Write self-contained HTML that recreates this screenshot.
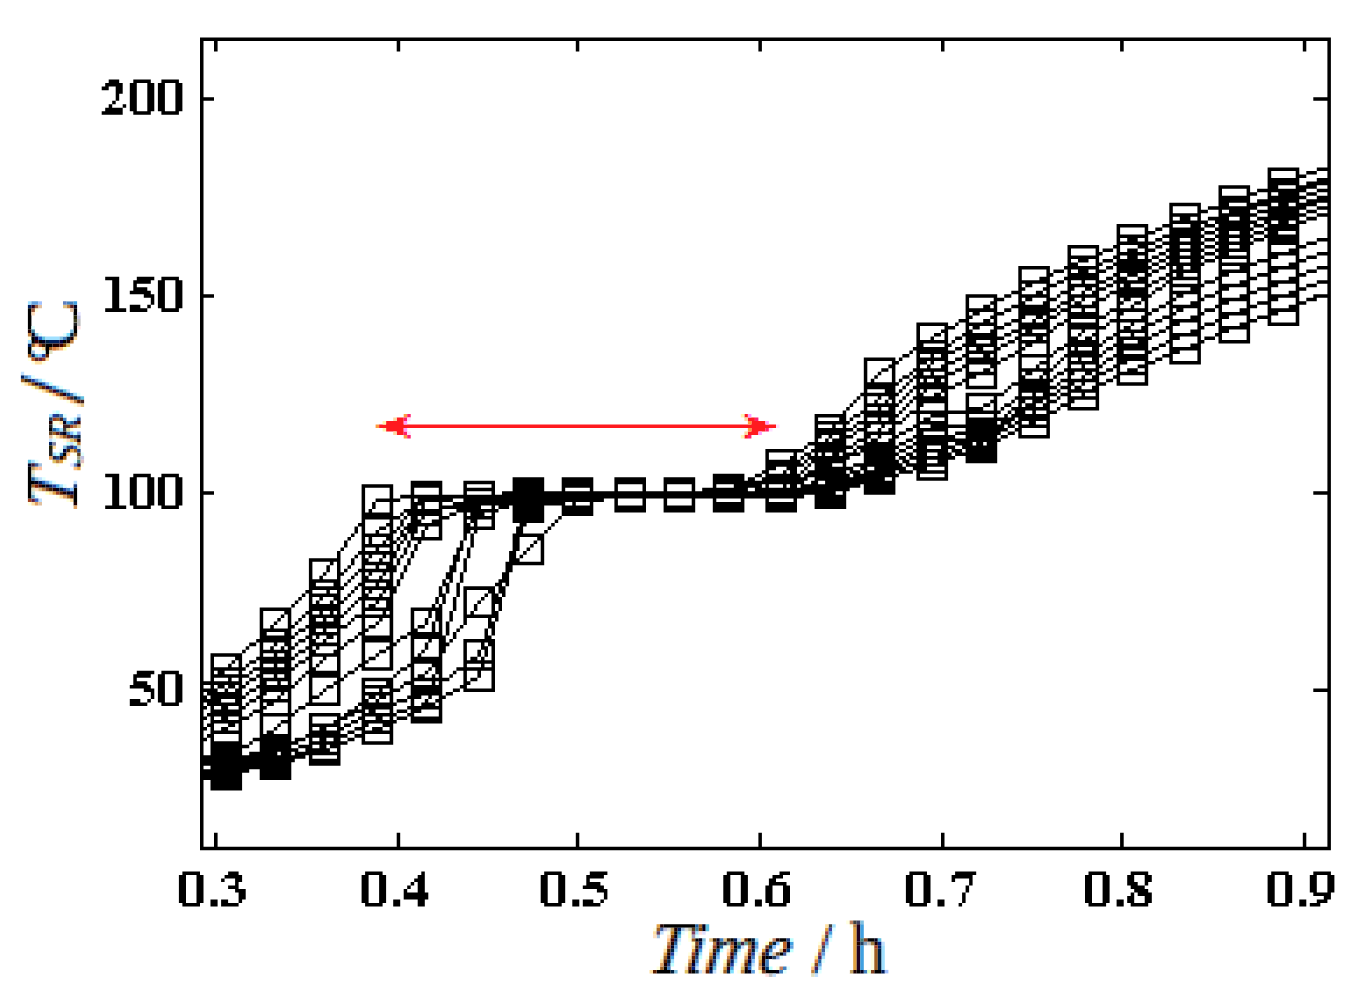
<!DOCTYPE html>
<html><head><meta charset="utf-8"><style>
html,body{margin:0;padding:0;background:#fff;overflow:hidden;}
svg{display:block;}
.ti{font-family:"Liberation Serif",serif;font-size:74px;}
</style></head><body>
<svg width="1367" height="996" viewBox="0 0 1367 996">
<rect width="1367" height="996" fill="#fff"/>
<path fill="#000" d="M200.0 37.4H1330.9V40.9H200.0zM200.0 40.9H203.5V44.4H200.0zM214.0 40.9H217.6V44.4H214.0zM396.7 40.9H400.2V44.4H396.7zM575.8 40.9H579.3V44.4H575.8zM758.4 40.9H761.9V44.4H758.4zM941.0 40.9H944.5V44.4H941.0zM1120.1 40.9H1123.7V44.4H1120.1zM1302.8 40.9H1306.3V44.4H1302.8zM1327.4 40.9H1330.9V44.4H1327.4zM200.0 44.4H203.5V47.9H200.0zM214.0 44.4H217.6V47.9H214.0zM396.7 44.4H400.2V47.9H396.7zM575.8 44.4H579.3V47.9H575.8zM758.4 44.4H761.9V47.9H758.4zM941.0 44.4H944.5V47.9H941.0zM1120.1 44.4H1123.7V47.9H1120.1zM1302.8 44.4H1306.3V47.9H1302.8zM1327.4 44.4H1330.9V47.9H1327.4zM200.0 47.9H203.5V51.4H200.0zM214.0 47.9H217.6V51.4H214.0zM396.7 47.9H400.2V51.4H396.7zM575.8 47.9H579.3V51.4H575.8zM758.4 47.9H761.9V51.4H758.4zM941.0 47.9H944.5V51.4H941.0zM1120.1 47.9H1123.7V51.4H1120.1zM1302.8 47.9H1306.3V51.4H1302.8zM1327.4 47.9H1330.9V51.4H1327.4zM200.0 51.4H203.5V55.0H200.0zM1327.4 51.4H1330.9V55.0H1327.4zM200.0 55.0H203.5V58.5H200.0zM1327.4 55.0H1330.9V58.5H1327.4zM200.0 58.5H203.5V62.0H200.0zM1327.4 58.5H1330.9V62.0H1327.4zM200.0 62.0H203.5V65.5H200.0zM1327.4 62.0H1330.9V65.5H1327.4zM200.0 65.5H203.5V69.0H200.0zM1327.4 65.5H1330.9V69.0H1327.4zM200.0 69.0H203.5V72.6H200.0zM1327.4 69.0H1330.9V72.6H1327.4zM200.0 72.6H203.5V76.1H200.0zM1327.4 72.6H1330.9V76.1H1327.4zM200.0 76.1H203.5V79.6H200.0zM1327.4 76.1H1330.9V79.6H1327.4zM108.7 79.6H119.2V83.1H108.7zM133.3 79.6H150.8V83.1H133.3zM161.4 79.6H178.9V83.1H161.4zM200.0 79.6H203.5V83.1H200.0zM1327.4 79.6H1330.9V83.1H1327.4zM105.2 83.1H122.7V86.6H105.2zM129.8 83.1H136.8V86.6H129.8zM147.3 83.1H154.3V86.6H147.3zM157.9 83.1H164.9V86.6H157.9zM175.4 83.1H182.4V86.6H175.4zM200.0 83.1H203.5V86.6H200.0zM1327.4 83.1H1330.9V86.6H1327.4zM101.7 86.6H108.7V90.2H101.7zM115.7 86.6H122.7V90.2H115.7zM129.8 86.6H136.8V90.2H129.8zM147.3 86.6H154.3V90.2H147.3zM157.9 86.6H164.9V90.2H157.9zM175.4 86.6H182.4V90.2H175.4zM200.0 86.6H203.5V90.2H200.0zM1327.4 86.6H1330.9V90.2H1327.4zM115.7 90.2H122.7V93.7H115.7zM129.8 90.2H136.8V93.7H129.8zM147.3 90.2H154.3V93.7H147.3zM157.9 90.2H164.9V93.7H157.9zM175.4 90.2H182.4V93.7H175.4zM200.0 90.2H203.5V93.7H200.0zM1327.4 90.2H1330.9V93.7H1327.4zM115.7 93.7H119.2V97.2H115.7zM129.8 93.7H136.8V97.2H129.8zM147.3 93.7H154.3V97.2H147.3zM157.9 93.7H164.9V97.2H157.9zM175.4 93.7H182.4V97.2H175.4zM200.0 93.7H203.5V97.2H200.0zM1327.4 93.7H1330.9V97.2H1327.4zM115.7 97.2H119.2V100.7H115.7zM129.8 97.2H136.8V100.7H129.8zM147.3 97.2H154.3V100.7H147.3zM157.9 97.2H164.9V100.7H157.9zM175.4 97.2H182.4V100.7H175.4zM200.0 97.2H214.0V100.7H200.0zM1313.3 97.2H1330.9V100.7H1313.3zM112.2 100.7H115.7V104.2H112.2zM129.8 100.7H136.8V104.2H129.8zM147.3 100.7H154.3V104.2H147.3zM157.9 100.7H164.9V104.2H157.9zM175.4 100.7H182.4V104.2H175.4zM200.0 100.7H203.5V104.2H200.0zM1327.4 100.7H1330.9V104.2H1327.4zM108.7 104.2H112.2V107.8H108.7zM122.7 104.2H126.2V107.8H122.7zM129.8 104.2H136.8V107.8H129.8zM147.3 104.2H154.3V107.8H147.3zM157.9 104.2H164.9V107.8H157.9zM175.4 104.2H182.4V107.8H175.4zM200.0 104.2H203.5V107.8H200.0zM1327.4 104.2H1330.9V107.8H1327.4zM105.2 107.8H122.7V111.3H105.2zM129.8 107.8H136.8V111.3H129.8zM147.3 107.8H154.3V111.3H147.3zM157.9 107.8H164.9V111.3H157.9zM175.4 107.8H182.4V111.3H175.4zM200.0 107.8H203.5V111.3H200.0zM1327.4 107.8H1330.9V111.3H1327.4zM101.7 111.3H122.7V114.8H101.7zM133.3 111.3H150.8V114.8H133.3zM161.4 111.3H178.9V114.8H161.4zM200.0 111.3H203.5V114.8H200.0zM1327.4 111.3H1330.9V114.8H1327.4zM200.0 114.8H203.5V118.3H200.0zM1327.4 114.8H1330.9V118.3H1327.4zM200.0 118.3H203.5V121.8H200.0zM1327.4 118.3H1330.9V121.8H1327.4zM200.0 121.8H203.5V125.3H200.0zM1327.4 121.8H1330.9V125.3H1327.4zM200.0 125.3H203.5V128.9H200.0zM1327.4 125.3H1330.9V128.9H1327.4zM200.0 128.9H203.5V132.4H200.0zM1327.4 128.9H1330.9V132.4H1327.4zM200.0 132.4H203.5V135.9H200.0zM1327.4 132.4H1330.9V135.9H1327.4zM200.0 135.9H203.5V139.4H200.0zM1327.4 135.9H1330.9V139.4H1327.4zM200.0 139.4H203.5V142.9H200.0zM1327.4 139.4H1330.9V142.9H1327.4zM200.0 142.9H203.5V146.5H200.0zM1327.4 142.9H1330.9V146.5H1327.4zM200.0 146.5H203.5V150.0H200.0zM1327.4 146.5H1330.9V150.0H1327.4zM200.0 150.0H203.5V153.5H200.0zM1327.4 150.0H1330.9V153.5H1327.4zM200.0 153.5H203.5V157.0H200.0zM1327.4 153.5H1330.9V157.0H1327.4zM200.0 157.0H203.5V160.5H200.0zM1327.4 157.0H1330.9V160.5H1327.4zM200.0 160.5H203.5V164.1H200.0zM1327.4 160.5H1330.9V164.1H1327.4zM200.0 164.1H203.5V167.6H200.0zM1327.4 164.1H1330.9V167.6H1327.4zM200.0 167.6H203.5V171.1H200.0zM1267.6 167.6H1299.3V171.1H1267.6zM1316.8 167.6H1330.9V171.1H1316.8zM200.0 171.1H203.5V174.6H200.0zM1267.6 171.1H1271.2V174.6H1267.6zM1295.7 171.1H1299.3V174.6H1295.7zM1306.3 171.1H1316.8V174.6H1306.3zM1327.4 171.1H1330.9V174.6H1327.4zM200.0 174.6H203.5V178.1H200.0zM1267.6 174.6H1271.2V178.1H1267.6zM1295.7 174.6H1306.3V178.1H1295.7zM1327.4 174.6H1330.9V178.1H1327.4zM200.0 178.1H203.5V181.6H200.0zM1267.6 178.1H1299.3V181.6H1267.6zM1316.8 178.1H1330.9V181.6H1316.8zM200.0 181.6H203.5V185.2H200.0zM1267.6 181.6H1299.3V185.2H1267.6zM1306.3 181.6H1330.9V185.2H1306.3zM200.0 185.2H203.5V188.7H200.0zM1218.5 185.2H1250.1V188.7H1218.5zM1267.6 185.2H1278.2V188.7H1267.6zM1295.7 185.2H1316.8V188.7H1295.7zM1327.4 185.2H1330.9V188.7H1327.4zM200.0 188.7H203.5V192.2H200.0zM1218.5 188.7H1222.0V192.2H1218.5zM1246.6 188.7H1250.1V192.2H1246.6zM1257.1 188.7H1306.3V192.2H1257.1zM1316.8 188.7H1330.9V192.2H1316.8zM200.0 192.2H203.5V195.7H200.0zM1218.5 192.2H1222.0V195.7H1218.5zM1246.6 192.2H1257.1V195.7H1246.6zM1267.6 192.2H1271.2V195.7H1267.6zM1278.2 192.2H1299.3V195.7H1278.2zM1306.3 192.2H1316.8V195.7H1306.3zM1327.4 192.2H1330.9V195.7H1327.4zM200.0 195.7H203.5V199.2H200.0zM1218.5 195.7H1250.1V199.2H1218.5zM1267.6 195.7H1306.3V199.2H1267.6zM1316.8 195.7H1330.9V199.2H1316.8zM200.0 199.2H203.5V202.8H200.0zM1218.5 199.2H1250.1V202.8H1218.5zM1257.1 199.2H1299.3V202.8H1257.1zM1306.3 199.2H1330.9V202.8H1306.3zM200.0 202.8H203.5V206.3H200.0zM1169.3 202.8H1200.9V206.3H1169.3zM1218.5 202.8H1229.0V206.3H1218.5zM1246.6 202.8H1271.2V206.3H1246.6zM1278.2 202.8H1288.7V206.3H1278.2zM1295.7 202.8H1316.8V206.3H1295.7zM1327.4 202.8H1330.9V206.3H1327.4zM200.0 206.3H203.5V209.8H200.0zM1169.3 206.3H1172.8V209.8H1169.3zM1197.4 206.3H1200.9V209.8H1197.4zM1207.9 206.3H1257.1V209.8H1207.9zM1267.6 206.3H1306.3V209.8H1267.6zM1316.8 206.3H1330.9V209.8H1316.8zM200.0 209.8H203.5V213.3H200.0zM1169.3 209.8H1172.8V213.3H1169.3zM1197.4 209.8H1207.9V213.3H1197.4zM1218.5 209.8H1222.0V213.3H1218.5zM1229.0 209.8H1250.1V213.3H1229.0zM1257.1 209.8H1299.3V213.3H1257.1zM1306.3 209.8H1316.8V213.3H1306.3zM1327.4 209.8H1330.9V213.3H1327.4zM200.0 213.3H203.5V216.8H200.0zM1169.3 213.3H1200.9V216.8H1169.3zM1218.5 213.3H1257.1V216.8H1218.5zM1267.6 213.3H1306.3V216.8H1267.6zM1316.8 213.3H1330.9V216.8H1316.8zM200.0 216.8H203.5V220.4H200.0zM1169.3 216.8H1172.8V220.4H1169.3zM1179.8 216.8H1190.4V220.4H1179.8zM1197.4 216.8H1200.9V220.4H1197.4zM1207.9 216.8H1229.0V220.4H1207.9zM1239.6 216.8H1250.1V220.4H1239.6zM1257.1 216.8H1299.3V220.4H1257.1zM1306.3 216.8H1316.8V220.4H1306.3zM1327.4 216.8H1330.9V220.4H1327.4zM200.0 220.4H203.5V223.9H200.0zM1169.3 220.4H1207.9V223.9H1169.3zM1215.0 220.4H1257.1V223.9H1215.0zM1264.1 220.4H1271.2V223.9H1264.1zM1278.2 220.4H1288.7V223.9H1278.2zM1295.7 220.4H1306.3V223.9H1295.7zM1327.4 220.4H1330.9V223.9H1327.4zM200.0 223.9H203.5V227.4H200.0zM1116.6 223.9H1148.2V227.4H1116.6zM1162.3 223.9H1172.8V227.4H1162.3zM1190.4 223.9H1200.9V227.4H1190.4zM1204.4 223.9H1215.0V227.4H1204.4zM1218.5 223.9H1250.1V227.4H1218.5zM1253.6 223.9H1264.1V227.4H1253.6zM1267.6 223.9H1299.3V227.4H1267.6zM1327.4 223.9H1330.9V227.4H1327.4zM200.0 227.4H203.5V230.9H200.0zM1116.6 227.4H1120.1V230.9H1116.6zM1144.7 227.4H1148.2V230.9H1144.7zM1155.3 227.4H1162.3V230.9H1155.3zM1169.3 227.4H1204.4V230.9H1169.3zM1215.0 227.4H1253.6V230.9H1215.0zM1264.1 227.4H1299.3V230.9H1264.1zM1327.4 227.4H1330.9V230.9H1327.4zM200.0 230.9H203.5V234.4H200.0zM1116.6 230.9H1120.1V234.4H1116.6zM1144.7 230.9H1155.3V234.4H1144.7zM1169.3 230.9H1200.9V234.4H1169.3zM1204.4 230.9H1215.0V234.4H1204.4zM1218.5 230.9H1229.0V234.4H1218.5zM1239.6 230.9H1250.1V234.4H1239.6zM1253.6 230.9H1264.1V234.4H1253.6zM1267.6 230.9H1278.2V234.4H1267.6zM1295.7 230.9H1299.3V234.4H1295.7zM1327.4 230.9H1330.9V234.4H1327.4zM200.0 234.4H203.5V238.0H200.0zM1116.6 234.4H1148.2V238.0H1116.6zM1162.3 234.4H1204.4V238.0H1162.3zM1215.0 234.4H1253.6V238.0H1215.0zM1264.1 234.4H1299.3V238.0H1264.1zM1327.4 234.4H1330.9V238.0H1327.4zM200.0 238.0H203.5V241.5H200.0zM1116.6 238.0H1120.1V241.5H1116.6zM1127.2 238.0H1137.7V241.5H1127.2zM1144.7 238.0H1148.2V241.5H1144.7zM1155.3 238.0H1162.3V241.5H1155.3zM1169.3 238.0H1179.8V241.5H1169.3zM1190.4 238.0H1200.9V241.5H1190.4zM1204.4 238.0H1215.0V241.5H1204.4zM1218.5 238.0H1229.0V241.5H1218.5zM1239.6 238.0H1250.1V241.5H1239.6zM1253.6 238.0H1264.1V241.5H1253.6zM1267.6 238.0H1299.3V241.5H1267.6zM1316.8 238.0H1330.9V241.5H1316.8zM200.0 241.5H203.5V245.0H200.0zM1116.6 241.5H1155.3V245.0H1116.6zM1162.3 241.5H1204.4V245.0H1162.3zM1215.0 241.5H1253.6V245.0H1215.0zM1267.6 241.5H1299.3V245.0H1267.6zM1306.3 241.5H1316.8V245.0H1306.3zM1327.4 241.5H1330.9V245.0H1327.4zM200.0 245.0H203.5V248.5H200.0zM1067.5 245.0H1099.1V248.5H1067.5zM1113.1 245.0H1120.1V248.5H1113.1zM1137.7 245.0H1148.2V248.5H1137.7zM1155.3 245.0H1162.3V248.5H1155.3zM1169.3 245.0H1179.8V248.5H1169.3zM1190.4 245.0H1200.9V248.5H1190.4zM1204.4 245.0H1215.0V248.5H1204.4zM1218.5 245.0H1229.0V248.5H1218.5zM1239.6 245.0H1250.1V248.5H1239.6zM1267.6 245.0H1271.2V248.5H1267.6zM1295.7 245.0H1306.3V248.5H1295.7zM1327.4 245.0H1330.9V248.5H1327.4zM200.0 248.5H203.5V252.0H200.0zM1067.5 248.5H1071.0V252.0H1067.5zM1095.6 248.5H1099.1V252.0H1095.6zM1102.6 248.5H1113.1V252.0H1102.6zM1116.6 248.5H1120.1V252.0H1116.6zM1127.2 248.5H1137.7V252.0H1127.2zM1144.7 248.5H1155.3V252.0H1144.7zM1165.8 248.5H1204.4V252.0H1165.8zM1215.0 248.5H1250.1V252.0H1215.0zM1267.6 248.5H1271.2V252.0H1267.6zM1288.7 248.5H1299.3V252.0H1288.7zM1327.4 248.5H1330.9V252.0H1327.4zM200.0 252.0H203.5V255.5H200.0zM1067.5 252.0H1071.0V255.5H1067.5zM1095.6 252.0H1102.6V255.5H1095.6zM1116.6 252.0H1148.2V255.5H1116.6zM1158.8 252.0H1165.8V255.5H1158.8zM1169.3 252.0H1179.8V255.5H1169.3zM1190.4 252.0H1200.9V255.5H1190.4zM1204.4 252.0H1215.0V255.5H1204.4zM1218.5 252.0H1229.0V255.5H1218.5zM1246.6 252.0H1250.1V255.5H1246.6zM1267.6 252.0H1299.3V255.5H1267.6zM1316.8 252.0H1330.9V255.5H1316.8zM200.0 255.5H203.5V259.1H200.0zM1067.5 255.5H1099.1V259.1H1067.5zM1113.1 255.5H1120.1V259.1H1113.1zM1127.2 255.5H1137.7V259.1H1127.2zM1144.7 255.5H1148.2V259.1H1144.7zM1151.8 255.5H1158.8V259.1H1151.8zM1165.8 255.5H1204.4V259.1H1165.8zM1215.0 255.5H1250.1V259.1H1215.0zM1267.6 255.5H1278.2V259.1H1267.6zM1295.7 255.5H1299.3V259.1H1295.7zM1306.3 255.5H1316.8V259.1H1306.3zM1327.4 255.5H1330.9V259.1H1327.4zM200.0 259.1H203.5V262.6H200.0zM1067.5 259.1H1071.0V262.6H1067.5zM1078.0 259.1H1088.5V262.6H1078.0zM1095.6 259.1H1099.1V262.6H1095.6zM1102.6 259.1H1113.1V262.6H1102.6zM1116.6 259.1H1151.8V262.6H1116.6zM1158.8 259.1H1165.8V262.6H1158.8zM1169.3 259.1H1179.8V262.6H1169.3zM1190.4 259.1H1200.9V262.6H1190.4zM1204.4 259.1H1215.0V262.6H1204.4zM1218.5 259.1H1222.0V262.6H1218.5zM1246.6 259.1H1250.1V262.6H1246.6zM1257.1 259.1H1271.2V262.6H1257.1zM1295.7 259.1H1306.3V262.6H1295.7zM1327.4 259.1H1330.9V262.6H1327.4zM200.0 262.6H203.5V266.1H200.0zM1067.5 262.6H1078.0V266.1H1067.5zM1095.6 262.6H1102.6V266.1H1095.6zM1113.1 262.6H1148.2V266.1H1113.1zM1151.8 262.6H1158.8V266.1H1151.8zM1165.8 262.6H1204.4V266.1H1165.8zM1218.5 262.6H1257.1V266.1H1218.5zM1267.6 262.6H1271.2V266.1H1267.6zM1288.7 262.6H1299.3V266.1H1288.7zM1327.4 262.6H1330.9V266.1H1327.4zM200.0 266.1H203.5V269.6H200.0zM1018.3 266.1H1049.9V269.6H1018.3zM1064.0 266.1H1099.1V269.6H1064.0zM1106.1 266.1H1113.1V269.6H1106.1zM1116.6 266.1H1151.8V269.6H1116.6zM1158.8 266.1H1165.8V269.6H1158.8zM1169.3 266.1H1172.8V269.6H1169.3zM1176.3 266.1H1183.4V269.6H1176.3zM1190.4 266.1H1200.9V269.6H1190.4zM1218.5 266.1H1222.0V269.6H1218.5zM1239.6 266.1H1250.1V269.6H1239.6zM1267.6 266.1H1299.3V269.6H1267.6zM1316.8 266.1H1330.9V269.6H1316.8zM200.0 269.6H203.5V273.1H200.0zM1018.3 269.6H1021.8V273.1H1018.3zM1046.4 269.6H1049.9V273.1H1046.4zM1053.4 269.6H1064.0V273.1H1053.4zM1067.5 269.6H1071.0V273.1H1067.5zM1078.0 269.6H1088.5V273.1H1078.0zM1095.6 269.6H1106.1V273.1H1095.6zM1116.6 269.6H1148.2V273.1H1116.6zM1151.8 269.6H1158.8V273.1H1151.8zM1169.3 269.6H1200.9V273.1H1169.3zM1218.5 269.6H1250.1V273.1H1218.5zM1267.6 269.6H1278.2V273.1H1267.6zM1295.7 269.6H1299.3V273.1H1295.7zM1306.3 269.6H1316.8V273.1H1306.3zM1327.4 269.6H1330.9V273.1H1327.4zM200.0 273.1H203.5V276.7H200.0zM1018.3 273.1H1021.8V276.7H1018.3zM1046.4 273.1H1053.4V276.7H1046.4zM1067.5 273.1H1099.1V276.7H1067.5zM1113.1 273.1H1120.1V276.7H1113.1zM1127.2 273.1H1137.7V276.7H1127.2zM1144.7 273.1H1151.8V276.7H1144.7zM1165.8 273.1H1172.8V276.7H1165.8zM1176.3 273.1H1183.4V276.7H1176.3zM1197.4 273.1H1200.9V276.7H1197.4zM1218.5 273.1H1229.0V276.7H1218.5zM1246.6 273.1H1250.1V276.7H1246.6zM1257.1 273.1H1271.2V276.7H1257.1zM1295.7 273.1H1306.3V276.7H1295.7zM1327.4 273.1H1330.9V276.7H1327.4zM105.2 276.7H119.2V280.2H105.2zM136.8 276.7H154.3V280.2H136.8zM161.4 276.7H178.9V280.2H161.4zM200.0 276.7H203.5V280.2H200.0zM1018.3 276.7H1021.8V280.2H1018.3zM1039.4 276.7H1049.9V280.2H1039.4zM1064.0 276.7H1099.1V280.2H1064.0zM1106.1 276.7H1113.1V280.2H1106.1zM1116.6 276.7H1127.2V280.2H1116.6zM1137.7 276.7H1148.2V280.2H1137.7zM1158.8 276.7H1165.8V280.2H1158.8zM1169.3 276.7H1200.9V280.2H1169.3zM1215.0 276.7H1222.0V280.2H1215.0zM1246.6 276.7H1257.1V280.2H1246.6zM1267.6 276.7H1271.2V280.2H1267.6zM1288.7 276.7H1299.3V280.2H1288.7zM1327.4 276.7H1330.9V280.2H1327.4zM112.2 280.2H119.2V283.7H112.2zM133.3 280.2H150.8V283.7H133.3zM157.9 280.2H164.9V283.7H157.9zM175.4 280.2H182.4V283.7H175.4zM200.0 280.2H203.5V283.7H200.0zM1018.3 280.2H1049.9V283.7H1018.3zM1056.9 280.2H1064.0V283.7H1056.9zM1067.5 280.2H1071.0V283.7H1067.5zM1081.5 280.2H1085.0V283.7H1081.5zM1095.6 280.2H1106.1V283.7H1095.6zM1113.1 280.2H1148.2V283.7H1113.1zM1151.8 280.2H1158.8V283.7H1151.8zM1165.8 280.2H1172.8V283.7H1165.8zM1197.4 280.2H1200.9V283.7H1197.4zM1204.4 280.2H1215.0V283.7H1204.4zM1218.5 280.2H1222.0V283.7H1218.5zM1239.6 280.2H1250.1V283.7H1239.6zM1267.6 280.2H1299.3V283.7H1267.6zM1316.8 280.2H1330.9V283.7H1316.8zM112.2 283.7H119.2V287.2H112.2zM133.3 283.7H136.8V287.2H133.3zM157.9 283.7H164.9V287.2H157.9zM175.4 283.7H182.4V287.2H175.4zM200.0 283.7H203.5V287.2H200.0zM1018.3 283.7H1021.8V287.2H1018.3zM1025.3 283.7H1032.3V287.2H1025.3zM1046.4 283.7H1056.9V287.2H1046.4zM1067.5 283.7H1099.1V287.2H1067.5zM1106.1 283.7H1113.1V287.2H1106.1zM1116.6 283.7H1120.1V287.2H1116.6zM1123.7 283.7H1130.7V287.2H1123.7zM1144.7 283.7H1151.8V287.2H1144.7zM1162.3 283.7H1165.8V287.2H1162.3zM1169.3 283.7H1204.4V287.2H1169.3zM1218.5 283.7H1250.1V287.2H1218.5zM1267.6 283.7H1278.2V287.2H1267.6zM1295.7 283.7H1299.3V287.2H1295.7zM1306.3 283.7H1316.8V287.2H1306.3zM1327.4 283.7H1330.9V287.2H1327.4zM112.2 287.2H119.2V290.7H112.2zM133.3 287.2H147.3V290.7H133.3zM157.9 287.2H164.9V290.7H157.9zM175.4 287.2H182.4V290.7H175.4zM200.0 287.2H203.5V290.7H200.0zM1018.3 287.2H1025.3V290.7H1018.3zM1042.9 287.2H1049.9V290.7H1042.9zM1067.5 287.2H1074.5V290.7H1067.5zM1085.0 287.2H1092.0V290.7H1085.0zM1095.6 287.2H1106.1V290.7H1095.6zM1116.6 287.2H1148.2V290.7H1116.6zM1155.3 287.2H1162.3V290.7H1155.3zM1169.3 287.2H1172.8V290.7H1169.3zM1190.4 287.2H1200.9V290.7H1190.4zM1218.5 287.2H1229.0V290.7H1218.5zM1246.6 287.2H1250.1V290.7H1246.6zM1257.1 287.2H1271.2V290.7H1257.1zM1295.7 287.2H1306.3V290.7H1295.7zM1327.4 287.2H1330.9V290.7H1327.4zM112.2 290.7H119.2V294.3H112.2zM129.8 290.7H150.8V294.3H129.8zM157.9 290.7H164.9V294.3H157.9zM175.4 290.7H182.4V294.3H175.4zM200.0 290.7H203.5V294.3H200.0zM1011.3 290.7H1021.8V294.3H1011.3zM1035.9 290.7H1042.9V294.3H1035.9zM1046.4 290.7H1049.9V294.3H1046.4zM1060.4 290.7H1071.0V294.3H1060.4zM1081.5 290.7H1085.0V294.3H1081.5zM1092.0 290.7H1099.1V294.3H1092.0zM1109.6 290.7H1148.2V294.3H1109.6zM1151.8 290.7H1155.3V294.3H1151.8zM1169.3 290.7H1200.9V294.3H1169.3zM1215.0 290.7H1222.0V294.3H1215.0zM1246.6 290.7H1257.1V294.3H1246.6zM1267.6 290.7H1271.2V294.3H1267.6zM1288.7 290.7H1299.3V294.3H1288.7zM1327.4 290.7H1330.9V294.3H1327.4zM112.2 294.3H119.2V297.8H112.2zM143.8 294.3H154.3V297.8H143.8zM157.9 294.3H164.9V297.8H157.9zM175.4 294.3H182.4V297.8H175.4zM200.0 294.3H214.0V297.8H200.0zM965.6 294.3H997.2V297.8H965.6zM1004.2 294.3H1011.3V297.8H1004.2zM1018.3 294.3H1049.9V297.8H1018.3zM1056.9 294.3H1060.4V297.8H1056.9zM1067.5 294.3H1099.1V297.8H1067.5zM1106.1 294.3H1109.6V297.8H1106.1zM1116.6 294.3H1151.8V297.8H1116.6zM1169.3 294.3H1172.8V297.8H1169.3zM1176.3 294.3H1183.4V297.8H1176.3zM1197.4 294.3H1200.9V297.8H1197.4zM1204.4 294.3H1215.0V297.8H1204.4zM1218.5 294.3H1222.0V297.8H1218.5zM1239.6 294.3H1250.1V297.8H1239.6zM1267.6 294.3H1299.3V297.8H1267.6zM1313.3 294.3H1330.9V297.8H1313.3zM112.2 297.8H119.2V301.3H112.2zM150.8 297.8H154.3V301.3H150.8zM157.9 297.8H164.9V301.3H157.9zM175.4 297.8H182.4V301.3H175.4zM200.0 297.8H203.5V301.3H200.0zM965.6 297.8H969.1V301.3H965.6zM993.7 297.8H1004.2V301.3H993.7zM1018.3 297.8H1021.8V301.3H1018.3zM1025.3 297.8H1032.3V301.3H1025.3zM1046.4 297.8H1056.9V301.3H1046.4zM1067.5 297.8H1074.5V301.3H1067.5zM1081.5 297.8H1085.0V301.3H1081.5zM1095.6 297.8H1106.1V301.3H1095.6zM1116.6 297.8H1120.1V301.3H1116.6zM1123.7 297.8H1130.7V301.3H1123.7zM1141.2 297.8H1148.2V301.3H1141.2zM1169.3 297.8H1176.3V301.3H1169.3zM1197.4 297.8H1204.4V301.3H1197.4zM1218.5 297.8H1250.1V301.3H1218.5zM1267.6 297.8H1278.2V301.3H1267.6zM1295.7 297.8H1299.3V301.3H1295.7zM1306.3 297.8H1316.8V301.3H1306.3zM1327.4 297.8H1330.9V301.3H1327.4zM112.2 301.3H119.2V304.8H112.2zM150.8 301.3H154.3V304.8H150.8zM157.9 301.3H164.9V304.8H157.9zM175.4 301.3H182.4V304.8H175.4zM200.0 301.3H203.5V304.8H200.0zM965.6 301.3H969.1V304.8H965.6zM990.2 301.3H997.2V304.8H990.2zM1018.3 301.3H1025.3V304.8H1018.3zM1042.9 301.3H1049.9V304.8H1042.9zM1060.4 301.3H1071.0V304.8H1060.4zM1074.5 301.3H1081.5V304.8H1074.5zM1092.0 301.3H1099.1V304.8H1092.0zM1116.6 301.3H1123.7V304.8H1116.6zM1134.2 301.3H1141.2V304.8H1134.2zM1144.7 301.3H1148.2V304.8H1144.7zM1165.8 301.3H1172.8V304.8H1165.8zM1190.4 301.3H1200.9V304.8H1190.4zM1218.5 301.3H1229.0V304.8H1218.5zM1246.6 301.3H1250.1V304.8H1246.6zM1257.1 301.3H1271.2V304.8H1257.1zM1295.7 301.3H1306.3V304.8H1295.7zM1327.4 301.3H1330.9V304.8H1327.4zM112.2 304.8H119.2V308.3H112.2zM129.8 304.8H140.3V308.3H129.8zM147.3 304.8H150.8V308.3H147.3zM157.9 304.8H164.9V308.3H157.9zM175.4 304.8H182.4V308.3H175.4zM200.0 304.8H203.5V308.3H200.0zM965.6 304.8H969.1V308.3H965.6zM983.2 304.8H990.2V308.3H983.2zM993.7 304.8H997.2V308.3H993.7zM1011.3 304.8H1049.9V308.3H1011.3zM1056.9 304.8H1060.4V308.3H1056.9zM1067.5 304.8H1099.1V308.3H1067.5zM1116.6 304.8H1120.1V308.3H1116.6zM1130.7 304.8H1134.2V308.3H1130.7zM1144.7 304.8H1148.2V308.3H1144.7zM1158.8 304.8H1165.8V308.3H1158.8zM1169.3 304.8H1200.9V308.3H1169.3zM1215.0 304.8H1222.0V308.3H1215.0zM1246.6 304.8H1257.1V308.3H1246.6zM1267.6 304.8H1271.2V308.3H1267.6zM1288.7 304.8H1299.3V308.3H1288.7zM1327.4 304.8H1330.9V308.3H1327.4zM105.2 308.3H126.2V311.9H105.2zM129.8 308.3H147.3V311.9H129.8zM161.4 308.3H178.9V311.9H161.4zM200.0 308.3H203.5V311.9H200.0zM965.6 308.3H997.2V311.9H965.6zM1004.2 308.3H1011.3V311.9H1004.2zM1018.3 308.3H1056.9V311.9H1018.3zM1060.4 308.3H1071.0V311.9H1060.4zM1081.5 308.3H1085.0V311.9H1081.5zM1095.6 308.3H1099.1V311.9H1095.6zM1109.6 308.3H1148.2V311.9H1109.6zM1151.8 308.3H1158.8V311.9H1151.8zM1169.3 308.3H1172.8V311.9H1169.3zM1176.3 308.3H1183.4V311.9H1176.3zM1197.4 308.3H1200.9V311.9H1197.4zM1204.4 308.3H1215.0V311.9H1204.4zM1218.5 308.3H1222.0V311.9H1218.5zM1239.6 308.3H1250.1V311.9H1239.6zM1267.6 308.3H1299.3V311.9H1267.6zM1327.4 308.3H1330.9V311.9H1327.4zM200.0 311.9H203.5V315.4H200.0zM965.6 311.9H969.1V315.4H965.6zM972.6 311.9H979.7V315.4H972.6zM993.7 311.9H1004.2V315.4H993.7zM1018.3 311.9H1049.9V315.4H1018.3zM1056.9 311.9H1060.4V315.4H1056.9zM1067.5 311.9H1099.1V315.4H1067.5zM1106.1 311.9H1109.6V315.4H1106.1zM1116.6 311.9H1123.7V315.4H1116.6zM1144.7 311.9H1151.8V315.4H1144.7zM1169.3 311.9H1176.3V315.4H1169.3zM1197.4 311.9H1204.4V315.4H1197.4zM1218.5 311.9H1250.1V315.4H1218.5zM1267.6 311.9H1278.2V315.4H1267.6zM1295.7 311.9H1299.3V315.4H1295.7zM1327.4 311.9H1330.9V315.4H1327.4zM200.0 315.4H203.5V318.9H200.0zM965.6 315.4H972.6V318.9H965.6zM990.2 315.4H997.2V318.9H990.2zM1018.3 315.4H1025.3V318.9H1018.3zM1035.9 315.4H1042.9V318.9H1035.9zM1046.4 315.4H1056.9V318.9H1046.4zM1067.5 315.4H1106.1V318.9H1067.5zM1116.6 315.4H1120.1V318.9H1116.6zM1141.2 315.4H1148.2V318.9H1141.2zM1162.3 315.4H1172.8V318.9H1162.3zM1190.4 315.4H1200.9V318.9H1190.4zM1218.5 315.4H1229.0V318.9H1218.5zM1246.6 315.4H1250.1V318.9H1246.6zM1257.1 315.4H1271.2V318.9H1257.1zM1295.7 315.4H1299.3V318.9H1295.7zM1327.4 315.4H1330.9V318.9H1327.4zM200.0 318.9H203.5V322.4H200.0zM958.6 318.9H969.1V322.4H958.6zM983.2 318.9H990.2V322.4H983.2zM993.7 318.9H997.2V322.4H993.7zM1011.3 318.9H1021.8V322.4H1011.3zM1032.3 318.9H1035.9V322.4H1032.3zM1042.9 318.9H1049.9V322.4H1042.9zM1064.0 318.9H1071.0V322.4H1064.0zM1095.6 318.9H1099.1V322.4H1095.6zM1109.6 318.9H1148.2V322.4H1109.6zM1155.3 318.9H1162.3V322.4H1155.3zM1169.3 318.9H1200.9V322.4H1169.3zM1215.0 318.9H1222.0V322.4H1215.0zM1246.6 318.9H1257.1V322.4H1246.6zM1267.6 318.9H1271.2V322.4H1267.6zM1295.7 318.9H1299.3V322.4H1295.7zM1327.4 318.9H1330.9V322.4H1327.4zM200.0 322.4H203.5V325.9H200.0zM916.4 322.4H948.1V325.9H916.4zM955.1 322.4H958.6V325.9H955.1zM965.6 322.4H997.2V325.9H965.6zM1004.2 322.4H1011.3V325.9H1004.2zM1018.3 322.4H1049.9V325.9H1018.3zM1056.9 322.4H1064.0V325.9H1056.9zM1067.5 322.4H1099.1V325.9H1067.5zM1106.1 322.4H1109.6V325.9H1106.1zM1116.6 322.4H1120.1V325.9H1116.6zM1130.7 322.4H1134.2V325.9H1130.7zM1144.7 322.4H1155.3V325.9H1144.7zM1169.3 322.4H1179.8V325.9H1169.3zM1197.4 322.4H1200.9V325.9H1197.4zM1204.4 322.4H1215.0V325.9H1204.4zM1218.5 322.4H1222.0V325.9H1218.5zM1239.6 322.4H1250.1V325.9H1239.6zM1267.6 322.4H1299.3V325.9H1267.6zM1327.4 322.4H1330.9V325.9H1327.4zM200.0 325.9H203.5V329.4H200.0zM916.4 325.9H920.0V329.4H916.4zM944.5 325.9H955.1V329.4H944.5zM965.6 325.9H969.1V329.4H965.6zM972.6 325.9H979.7V329.4H972.6zM993.7 325.9H1004.2V329.4H993.7zM1018.3 325.9H1049.9V329.4H1018.3zM1053.4 325.9H1056.9V329.4H1053.4zM1067.5 325.9H1106.1V329.4H1067.5zM1116.6 325.9H1120.1V329.4H1116.6zM1123.7 325.9H1130.7V329.4H1123.7zM1141.2 325.9H1148.2V329.4H1141.2zM1165.8 325.9H1172.8V329.4H1165.8zM1197.4 325.9H1204.4V329.4H1197.4zM1218.5 325.9H1250.1V329.4H1218.5zM1327.4 325.9H1330.9V329.4H1327.4zM200.0 329.4H203.5V333.0H200.0zM916.4 329.4H920.0V333.0H916.4zM941.0 329.4H948.1V333.0H941.0zM965.6 329.4H972.6V333.0H965.6zM990.2 329.4H997.2V333.0H990.2zM1011.3 329.4H1021.8V333.0H1011.3zM1025.3 329.4H1032.3V333.0H1025.3zM1046.4 329.4H1053.4V333.0H1046.4zM1067.5 329.4H1071.0V333.0H1067.5zM1081.5 329.4H1085.0V333.0H1081.5zM1095.6 329.4H1099.1V333.0H1095.6zM1116.6 329.4H1148.2V333.0H1116.6zM1158.8 329.4H1165.8V333.0H1158.8zM1169.3 329.4H1172.8V333.0H1169.3zM1190.4 329.4H1200.9V333.0H1190.4zM1218.5 329.4H1229.0V333.0H1218.5zM1246.6 329.4H1250.1V333.0H1246.6zM1327.4 329.4H1330.9V333.0H1327.4zM200.0 333.0H203.5V336.5H200.0zM916.4 333.0H920.0V336.5H916.4zM934.0 333.0H941.0V336.5H934.0zM944.5 333.0H948.1V336.5H944.5zM962.1 333.0H997.2V336.5H962.1zM1004.2 333.0H1011.3V336.5H1004.2zM1018.3 333.0H1049.9V336.5H1018.3zM1067.5 333.0H1071.0V336.5H1067.5zM1078.0 333.0H1081.5V336.5H1078.0zM1092.0 333.0H1099.1V336.5H1092.0zM1113.1 333.0H1120.1V336.5H1113.1zM1130.7 333.0H1134.2V336.5H1130.7zM1144.7 333.0H1148.2V336.5H1144.7zM1151.8 333.0H1158.8V336.5H1151.8zM1169.3 333.0H1200.9V336.5H1169.3zM1215.0 333.0H1222.0V336.5H1215.0zM1246.6 333.0H1250.1V336.5H1246.6zM1327.4 333.0H1330.9V336.5H1327.4zM200.0 336.5H203.5V340.0H200.0zM916.4 336.5H920.0V340.0H916.4zM930.5 336.5H934.0V340.0H930.5zM944.5 336.5H948.1V340.0H944.5zM955.1 336.5H962.1V340.0H955.1zM965.6 336.5H1004.2V340.0H965.6zM1014.8 336.5H1021.8V340.0H1014.8zM1035.9 336.5H1042.9V340.0H1035.9zM1046.4 336.5H1049.9V340.0H1046.4zM1067.5 336.5H1078.0V340.0H1067.5zM1085.0 336.5H1092.0V340.0H1085.0zM1095.6 336.5H1099.1V340.0H1095.6zM1106.1 336.5H1113.1V340.0H1106.1zM1116.6 336.5H1151.8V340.0H1116.6zM1169.3 336.5H1179.8V340.0H1169.3zM1197.4 336.5H1200.9V340.0H1197.4zM1204.4 336.5H1215.0V340.0H1204.4zM1218.5 336.5H1222.0V340.0H1218.5zM1246.6 336.5H1250.1V340.0H1246.6zM1327.4 336.5H1330.9V340.0H1327.4zM200.0 340.0H203.5V343.5H200.0zM916.4 340.0H948.1V343.5H916.4zM951.6 340.0H955.1V343.5H951.6zM965.6 340.0H976.2V343.5H965.6zM990.2 340.0H997.2V343.5H990.2zM1007.8 340.0H1014.8V343.5H1007.8zM1018.3 340.0H1049.9V343.5H1018.3zM1067.5 340.0H1099.1V343.5H1067.5zM1102.6 340.0H1106.1V343.5H1102.6zM1116.6 340.0H1123.7V343.5H1116.6zM1137.7 340.0H1148.2V343.5H1137.7zM1165.8 340.0H1172.8V343.5H1165.8zM1197.4 340.0H1204.4V343.5H1197.4zM1218.5 340.0H1250.1V343.5H1218.5zM1327.4 340.0H1330.9V343.5H1327.4zM200.0 343.5H203.5V347.0H200.0zM916.4 343.5H923.5V347.0H916.4zM944.5 343.5H951.6V347.0H944.5zM962.1 343.5H997.2V347.0H962.1zM1000.7 343.5H1007.8V347.0H1000.7zM1018.3 343.5H1021.8V347.0H1018.3zM1025.3 343.5H1032.3V347.0H1025.3zM1046.4 343.5H1049.9V347.0H1046.4zM1064.0 343.5H1102.6V347.0H1064.0zM1113.1 343.5H1148.2V347.0H1113.1zM1158.8 343.5H1165.8V347.0H1158.8zM1169.3 343.5H1172.8V347.0H1169.3zM1190.4 343.5H1200.9V347.0H1190.4zM1327.4 343.5H1330.9V347.0H1327.4zM200.0 347.0H203.5V350.6H200.0zM912.9 347.0H948.1V350.6H912.9zM955.1 347.0H962.1V350.6H955.1zM965.6 347.0H969.1V350.6H965.6zM976.2 347.0H983.2V350.6H976.2zM993.7 347.0H1000.7V350.6H993.7zM1018.3 347.0H1025.3V350.6H1018.3zM1046.4 347.0H1049.9V350.6H1046.4zM1056.9 347.0H1064.0V350.6H1056.9zM1067.5 347.0H1071.0V350.6H1067.5zM1074.5 347.0H1078.0V350.6H1074.5zM1092.0 347.0H1099.1V350.6H1092.0zM1106.1 347.0H1113.1V350.6H1106.1zM1116.6 347.0H1148.2V350.6H1116.6zM1151.8 347.0H1158.8V350.6H1151.8zM1169.3 347.0H1200.9V350.6H1169.3zM1327.4 347.0H1330.9V350.6H1327.4zM200.0 350.6H203.5V354.1H200.0zM909.4 350.6H912.9V354.1H909.4zM916.4 350.6H955.1V354.1H916.4zM965.6 350.6H997.2V354.1H965.6zM1014.8 350.6H1021.8V354.1H1014.8zM1046.4 350.6H1049.9V354.1H1046.4zM1053.4 350.6H1056.9V354.1H1053.4zM1067.5 350.6H1099.1V354.1H1067.5zM1102.6 350.6H1106.1V354.1H1102.6zM1116.6 350.6H1123.7V354.1H1116.6zM1144.7 350.6H1151.8V354.1H1144.7zM1169.3 350.6H1179.8V354.1H1169.3zM1197.4 350.6H1200.9V354.1H1197.4zM1327.4 350.6H1330.9V354.1H1327.4zM200.0 354.1H203.5V357.6H200.0zM902.4 354.1H909.4V357.6H902.4zM916.4 354.1H920.0V357.6H916.4zM930.5 354.1H934.0V357.6H930.5zM941.0 354.1H948.1V357.6H941.0zM962.1 354.1H969.1V357.6H962.1zM983.2 354.1H990.2V357.6H983.2zM993.7 354.1H997.2V357.6H993.7zM1007.8 354.1H1014.8V357.6H1007.8zM1018.3 354.1H1053.4V357.6H1018.3zM1064.0 354.1H1102.6V357.6H1064.0zM1113.1 354.1H1148.2V357.6H1113.1zM1162.3 354.1H1172.8V357.6H1162.3zM1197.4 354.1H1200.9V357.6H1197.4zM1327.4 354.1H1330.9V357.6H1327.4zM200.0 357.6H203.5V361.1H200.0zM863.8 357.6H895.4V361.1H863.8zM898.9 357.6H902.4V361.1H898.9zM916.4 357.6H948.1V361.1H916.4zM955.1 357.6H962.1V361.1H955.1zM965.6 357.6H997.2V361.1H965.6zM1000.7 357.6H1007.8V361.1H1000.7zM1018.3 357.6H1021.8V361.1H1018.3zM1046.4 357.6H1049.9V361.1H1046.4zM1060.4 357.6H1064.0V361.1H1060.4zM1067.5 357.6H1071.0V361.1H1067.5zM1078.0 357.6H1081.5V361.1H1078.0zM1092.0 357.6H1099.1V361.1H1092.0zM1106.1 357.6H1113.1V361.1H1106.1zM1116.6 357.6H1148.2V361.1H1116.6zM1155.3 357.6H1162.3V361.1H1155.3zM1169.3 357.6H1172.8V361.1H1169.3zM1197.4 357.6H1200.9V361.1H1197.4zM1327.4 357.6H1330.9V361.1H1327.4zM200.0 361.1H203.5V364.6H200.0zM863.8 361.1H867.3V364.6H863.8zM891.9 361.1H898.9V364.6H891.9zM916.4 361.1H927.0V364.6H916.4zM930.5 361.1H934.0V364.6H930.5zM944.5 361.1H955.1V364.6H944.5zM965.6 361.1H1000.7V364.6H965.6zM1018.3 361.1H1021.8V364.6H1018.3zM1039.4 361.1H1049.9V364.6H1039.4zM1056.9 361.1H1060.4V364.6H1056.9zM1067.5 361.1H1099.1V364.6H1067.5zM1102.6 361.1H1106.1V364.6H1102.6zM1116.6 361.1H1127.2V364.6H1116.6zM1144.7 361.1H1155.3V364.6H1144.7zM1169.3 361.1H1200.9V364.6H1169.3zM1327.4 361.1H1330.9V364.6H1327.4zM200.0 364.6H203.5V368.2H200.0zM863.8 364.6H867.3V368.2H863.8zM888.4 364.6H895.4V368.2H888.4zM916.4 364.6H920.0V368.2H916.4zM927.0 364.6H930.5V368.2H927.0zM941.0 364.6H948.1V368.2H941.0zM962.1 364.6H969.1V368.2H962.1zM990.2 364.6H997.2V368.2H990.2zM1018.3 364.6H1021.8V368.2H1018.3zM1035.9 364.6H1039.4V368.2H1035.9zM1046.4 364.6H1049.9V368.2H1046.4zM1053.4 364.6H1056.9V368.2H1053.4zM1067.5 364.6H1071.0V368.2H1067.5zM1081.5 364.6H1085.0V368.2H1081.5zM1095.6 364.6H1102.6V368.2H1095.6zM1113.1 364.6H1120.1V368.2H1113.1zM1137.7 364.6H1148.2V368.2H1137.7zM1327.4 364.6H1330.9V368.2H1327.4zM200.0 368.2H203.5V371.7H200.0zM863.8 368.2H867.3V371.7H863.8zM881.3 368.2H888.4V371.7H881.3zM891.9 368.2H895.4V371.7H891.9zM912.9 368.2H948.1V371.7H912.9zM955.1 368.2H962.1V371.7H955.1zM965.6 368.2H969.1V371.7H965.6zM983.2 368.2H990.2V371.7H983.2zM993.7 368.2H997.2V371.7H993.7zM1018.3 368.2H1053.4V371.7H1018.3zM1064.0 368.2H1099.1V371.7H1064.0zM1106.1 368.2H1113.1V371.7H1106.1zM1116.6 368.2H1120.1V371.7H1116.6zM1127.2 368.2H1137.7V371.7H1127.2zM1144.7 368.2H1148.2V371.7H1144.7zM1327.4 368.2H1330.9V371.7H1327.4zM200.0 371.7H203.5V375.2H200.0zM863.8 371.7H867.3V375.2H863.8zM877.8 371.7H881.3V375.2H877.8zM891.9 371.7H895.4V375.2H891.9zM909.4 371.7H912.9V375.2H909.4zM916.4 371.7H923.5V375.2H916.4zM930.5 371.7H934.0V375.2H930.5zM944.5 371.7H955.1V375.2H944.5zM965.6 371.7H997.2V375.2H965.6zM1018.3 371.7H1021.8V375.2H1018.3zM1025.3 371.7H1032.3V375.2H1025.3zM1042.9 371.7H1049.9V375.2H1042.9zM1056.9 371.7H1064.0V375.2H1056.9zM1067.5 371.7H1074.5V375.2H1067.5zM1085.0 371.7H1092.0V375.2H1085.0zM1095.6 371.7H1106.1V375.2H1095.6zM1116.6 371.7H1148.2V375.2H1116.6zM1327.4 371.7H1330.9V375.2H1327.4zM200.0 375.2H203.5V378.7H200.0zM863.8 375.2H867.3V378.7H863.8zM874.3 375.2H877.8V378.7H874.3zM891.9 375.2H895.4V378.7H891.9zM902.4 375.2H909.4V378.7H902.4zM912.9 375.2H948.1V378.7H912.9zM965.6 375.2H976.2V378.7H965.6zM993.7 375.2H997.2V378.7H993.7zM1018.3 375.2H1025.3V378.7H1018.3zM1039.4 375.2H1042.9V378.7H1039.4zM1046.4 375.2H1049.9V378.7H1046.4zM1053.4 375.2H1056.9V378.7H1053.4zM1067.5 375.2H1071.0V378.7H1067.5zM1081.5 375.2H1085.0V378.7H1081.5zM1092.0 375.2H1099.1V378.7H1092.0zM1113.1 375.2H1120.1V378.7H1113.1zM1144.7 375.2H1148.2V378.7H1144.7zM1327.4 375.2H1330.9V378.7H1327.4zM200.0 378.7H203.5V382.2H200.0zM863.8 378.7H867.3V382.2H863.8zM870.8 378.7H874.3V382.2H870.8zM891.9 378.7H895.4V382.2H891.9zM898.9 378.7H902.4V382.2H898.9zM909.4 378.7H912.9V382.2H909.4zM916.4 378.7H920.0V382.2H916.4zM923.5 378.7H927.0V382.2H923.5zM934.0 378.7H941.0V382.2H934.0zM944.5 378.7H948.1V382.2H944.5zM962.1 378.7H969.1V382.2H962.1zM993.7 378.7H997.2V382.2H993.7zM1018.3 378.7H1053.4V382.2H1018.3zM1060.4 378.7H1099.1V382.2H1060.4zM1106.1 378.7H1113.1V382.2H1106.1zM1116.6 378.7H1120.1V382.2H1116.6zM1144.7 378.7H1148.2V382.2H1144.7zM1327.4 378.7H1330.9V382.2H1327.4zM200.0 382.2H203.5V385.8H200.0zM863.8 382.2H898.9V385.8H863.8zM905.9 382.2H909.4V385.8H905.9zM916.4 382.2H948.1V385.8H916.4zM955.1 382.2H962.1V385.8H955.1zM965.6 382.2H969.1V385.8H965.6zM993.7 382.2H997.2V385.8H993.7zM1011.3 382.2H1049.9V385.8H1011.3zM1056.9 382.2H1060.4V385.8H1056.9zM1067.5 382.2H1074.5V385.8H1067.5zM1081.5 382.2H1085.0V385.8H1081.5zM1095.6 382.2H1106.1V385.8H1095.6zM1116.6 382.2H1148.2V385.8H1116.6zM1327.4 382.2H1330.9V385.8H1327.4zM200.0 385.8H203.5V389.3H200.0zM863.8 385.8H895.4V389.3H863.8zM902.4 385.8H905.9V389.3H902.4zM912.9 385.8H955.1V389.3H912.9zM965.6 385.8H997.2V389.3H965.6zM1007.8 385.8H1011.3V389.3H1007.8zM1018.3 385.8H1056.9V389.3H1018.3zM1060.4 385.8H1071.0V389.3H1060.4zM1074.5 385.8H1081.5V389.3H1074.5zM1092.0 385.8H1099.1V389.3H1092.0zM1327.4 385.8H1330.9V389.3H1327.4zM200.0 389.3H203.5V392.8H200.0zM863.8 389.3H867.3V392.8H863.8zM884.8 389.3H895.4V392.8H884.8zM898.9 389.3H902.4V392.8H898.9zM909.4 389.3H912.9V392.8H909.4zM916.4 389.3H920.0V392.8H916.4zM923.5 389.3H927.0V392.8H923.5zM941.0 389.3H948.1V392.8H941.0zM1004.2 389.3H1007.8V392.8H1004.2zM1018.3 389.3H1049.9V392.8H1018.3zM1056.9 389.3H1060.4V392.8H1056.9zM1067.5 389.3H1099.1V392.8H1067.5zM1327.4 389.3H1330.9V392.8H1327.4zM200.0 392.8H203.5V396.3H200.0zM860.3 392.8H898.9V396.3H860.3zM905.9 392.8H909.4V396.3H905.9zM916.4 392.8H923.5V396.3H916.4zM934.0 392.8H941.0V396.3H934.0zM944.5 392.8H948.1V396.3H944.5zM965.6 392.8H1004.2V396.3H965.6zM1018.3 392.8H1021.8V396.3H1018.3zM1032.3 392.8H1035.9V396.3H1032.3zM1042.9 392.8H1056.9V396.3H1042.9zM1060.4 392.8H1071.0V396.3H1060.4zM1081.5 392.8H1085.0V396.3H1081.5zM1095.6 392.8H1099.1V396.3H1095.6zM1327.4 392.8H1330.9V396.3H1327.4zM200.0 396.3H203.5V399.8H200.0zM856.7 396.3H860.3V399.8H856.7zM863.8 396.3H867.3V399.8H863.8zM877.8 396.3H881.3V399.8H877.8zM888.4 396.3H895.4V399.8H888.4zM902.4 396.3H905.9V399.8H902.4zM912.9 396.3H948.1V399.8H912.9zM965.6 396.3H969.1V399.8H965.6zM993.7 396.3H997.2V399.8H993.7zM1014.8 396.3H1049.9V399.8H1014.8zM1056.9 396.3H1060.4V399.8H1056.9zM1067.5 396.3H1099.1V399.8H1067.5zM1327.4 396.3H1330.9V399.8H1327.4zM200.0 399.8H203.5V403.3H200.0zM853.2 399.8H856.7V403.3H853.2zM863.8 399.8H867.3V403.3H863.8zM874.3 399.8H877.8V403.3H874.3zM884.8 399.8H888.4V403.3H884.8zM891.9 399.8H895.4V403.3H891.9zM898.9 399.8H902.4V403.3H898.9zM909.4 399.8H912.9V403.3H909.4zM916.4 399.8H948.1V403.3H916.4zM965.6 399.8H969.1V403.3H965.6zM990.2 399.8H997.2V403.3H990.2zM1011.3 399.8H1014.8V403.3H1011.3zM1018.3 399.8H1025.3V403.3H1018.3zM1032.3 399.8H1042.9V403.3H1032.3zM1046.4 399.8H1056.9V403.3H1046.4zM1067.5 399.8H1074.5V403.3H1067.5zM1095.6 399.8H1099.1V403.3H1095.6zM1327.4 399.8H1330.9V403.3H1327.4zM200.0 403.3H203.5V406.9H200.0zM849.7 403.3H853.2V406.9H849.7zM863.8 403.3H898.9V406.9H863.8zM905.9 403.3H909.4V406.9H905.9zM916.4 403.3H923.5V406.9H916.4zM944.5 403.3H948.1V406.9H944.5zM965.6 403.3H969.1V406.9H965.6zM983.2 403.3H990.2V406.9H983.2zM993.7 403.3H997.2V406.9H993.7zM1004.2 403.3H1011.3V406.9H1004.2zM1018.3 403.3H1021.8V406.9H1018.3zM1025.3 403.3H1035.9V406.9H1025.3zM1042.9 403.3H1049.9V406.9H1042.9zM1060.4 403.3H1071.0V406.9H1060.4zM1095.6 403.3H1099.1V406.9H1095.6zM1327.4 403.3H1330.9V406.9H1327.4zM200.0 406.9H203.5V410.4H200.0zM846.2 406.9H849.7V410.4H846.2zM863.8 406.9H867.3V410.4H863.8zM877.8 406.9H881.3V410.4H877.8zM888.4 406.9H895.4V410.4H888.4zM902.4 406.9H905.9V410.4H902.4zM916.4 406.9H920.0V410.4H916.4zM944.5 406.9H948.1V410.4H944.5zM965.6 406.9H983.2V410.4H965.6zM993.7 406.9H997.2V410.4H993.7zM1000.7 406.9H1004.2V410.4H1000.7zM1011.3 406.9H1049.9V410.4H1011.3zM1056.9 406.9H1060.4V410.4H1056.9zM1067.5 406.9H1099.1V410.4H1067.5zM1327.4 406.9H1330.9V410.4H1327.4zM200.0 410.4H203.5V413.9H200.0zM842.7 410.4H846.2V413.9H842.7zM860.3 410.4H895.4V413.9H860.3zM898.9 410.4H902.4V413.9H898.9zM909.4 410.4H1000.7V413.9H909.4zM1007.8 410.4H1011.3V413.9H1007.8zM1014.8 410.4H1025.3V413.9H1014.8zM1032.3 410.4H1035.9V413.9H1032.3zM1046.4 410.4H1056.9V413.9H1046.4zM1327.4 410.4H1330.9V413.9H1327.4zM200.0 413.9H203.5V417.4H200.0zM814.6 413.9H846.2V417.4H814.6zM853.2 413.9H860.3V417.4H853.2zM863.8 413.9H898.9V417.4H863.8zM905.9 413.9H909.4V417.4H905.9zM916.4 413.9H920.0V417.4H916.4zM930.5 413.9H948.1V417.4H930.5zM965.6 413.9H969.1V417.4H965.6zM993.7 413.9H997.2V417.4H993.7zM1004.2 413.9H1007.8V417.4H1004.2zM1011.3 413.9H1049.9V417.4H1011.3zM1327.4 413.9H1330.9V417.4H1327.4zM200.0 417.4H203.5V420.9H200.0zM814.6 417.4H818.1V420.9H814.6zM839.2 417.4H846.2V420.9H839.2zM849.7 417.4H853.2V420.9H849.7zM863.8 417.4H867.3V420.9H863.8zM877.8 417.4H881.3V420.9H877.8zM888.4 417.4H895.4V420.9H888.4zM902.4 417.4H905.9V420.9H902.4zM916.4 417.4H920.0V420.9H916.4zM923.5 417.4H930.5V420.9H923.5zM944.5 417.4H948.1V420.9H944.5zM965.6 417.4H1014.8V420.9H965.6zM1018.3 417.4H1049.9V420.9H1018.3zM1327.4 417.4H1330.9V420.9H1327.4zM200.0 420.9H203.5V424.5H200.0zM814.6 420.9H849.7V424.5H814.6zM856.7 420.9H902.4V424.5H856.7zM916.4 420.9H948.1V424.5H916.4zM965.6 420.9H997.2V424.5H965.6zM1000.7 420.9H1011.3V424.5H1000.7zM1014.8 420.9H1021.8V424.5H1014.8zM1028.8 420.9H1035.9V424.5H1028.8zM1046.4 420.9H1049.9V424.5H1046.4zM1327.4 420.9H1330.9V424.5H1327.4zM200.0 424.5H203.5V428.0H200.0zM814.6 424.5H818.1V428.0H814.6zM832.2 424.5H835.7V428.0H832.2zM842.7 424.5H846.2V428.0H842.7zM853.2 424.5H856.7V428.0H853.2zM863.8 424.5H870.8V428.0H863.8zM881.3 424.5H884.8V428.0H881.3zM891.9 424.5H895.4V428.0H891.9zM912.9 424.5H920.0V428.0H912.9zM930.5 424.5H1004.2V428.0H930.5zM1007.8 424.5H1014.8V428.0H1007.8zM1018.3 424.5H1049.9V428.0H1018.3zM1327.4 424.5H1330.9V428.0H1327.4zM200.0 428.0H203.5V431.5H200.0zM814.6 428.0H853.2V431.5H814.6zM856.7 428.0H867.3V431.5H856.7zM877.8 428.0H881.3V431.5H877.8zM888.4 428.0H895.4V431.5H888.4zM905.9 428.0H912.9V431.5H905.9zM916.4 428.0H948.1V431.5H916.4zM965.6 428.0H1007.8V431.5H965.6zM1014.8 428.0H1021.8V431.5H1014.8zM1046.4 428.0H1049.9V431.5H1046.4zM1327.4 428.0H1330.9V431.5H1327.4zM200.0 431.5H203.5V435.0H200.0zM814.6 431.5H846.2V435.0H814.6zM853.2 431.5H856.7V435.0H853.2zM863.8 431.5H895.4V435.0H863.8zM898.9 431.5H905.9V435.0H898.9zM916.4 431.5H923.5V435.0H916.4zM944.5 431.5H948.1V435.0H944.5zM955.1 431.5H1000.7V435.0H955.1zM1007.8 431.5H1014.8V435.0H1007.8zM1018.3 431.5H1021.8V435.0H1018.3zM1046.4 431.5H1049.9V435.0H1046.4zM1327.4 431.5H1330.9V435.0H1327.4zM200.0 435.0H203.5V438.5H200.0zM814.6 435.0H821.6V438.5H814.6zM828.6 435.0H832.2V438.5H828.6zM839.2 435.0H853.2V438.5H839.2zM863.8 435.0H870.8V438.5H863.8zM877.8 435.0H881.3V438.5H877.8zM891.9 435.0H898.9V438.5H891.9zM912.9 435.0H955.1V438.5H912.9zM965.6 435.0H997.2V438.5H965.6zM1000.7 435.0H1007.8V438.5H1000.7zM1018.3 435.0H1049.9V438.5H1018.3zM1327.4 435.0H1330.9V438.5H1327.4zM200.0 438.5H203.5V442.1H200.0zM814.6 438.5H818.1V442.1H814.6zM825.1 438.5H828.6V442.1H825.1zM832.2 438.5H846.2V442.1H832.2zM856.7 438.5H867.3V442.1H856.7zM870.8 438.5H877.8V442.1H870.8zM888.4 438.5H895.4V442.1H888.4zM905.9 438.5H912.9V442.1H905.9zM916.4 438.5H1000.7V442.1H916.4zM1327.4 438.5H1330.9V442.1H1327.4zM200.0 442.1H203.5V445.6H200.0zM807.6 442.1H846.2V445.6H807.6zM853.2 442.1H856.7V445.6H853.2zM863.8 442.1H895.4V445.6H863.8zM898.9 442.1H905.9V445.6H898.9zM912.9 442.1H948.1V445.6H912.9zM955.1 442.1H972.6V445.6H955.1zM976.2 442.1H983.2V445.6H976.2zM986.7 442.1H997.2V445.6H986.7zM1327.4 442.1H1330.9V445.6H1327.4zM200.0 445.6H203.5V449.1H200.0zM804.1 445.6H807.6V449.1H804.1zM814.6 445.6H853.2V449.1H814.6zM856.7 445.6H898.9V449.1H856.7zM905.9 445.6H912.9V449.1H905.9zM916.4 445.6H927.0V449.1H916.4zM941.0 445.6H955.1V449.1H941.0zM962.1 445.6H997.2V449.1H962.1zM1327.4 445.6H1330.9V449.1H1327.4zM200.0 449.1H203.5V452.6H200.0zM765.4 449.1H804.1V452.6H765.4zM811.1 449.1H846.2V452.6H811.1zM853.2 449.1H856.7V452.6H853.2zM860.3 449.1H895.4V452.6H860.3zM898.9 449.1H905.9V452.6H898.9zM912.9 449.1H948.1V452.6H912.9zM951.6 449.1H962.1V452.6H951.6zM965.6 449.1H997.2V452.6H965.6zM1327.4 449.1H1330.9V452.6H1327.4zM200.0 452.6H203.5V456.1H200.0zM765.4 452.6H768.9V456.1H765.4zM793.5 452.6H797.0V456.1H793.5zM804.1 452.6H811.1V456.1H804.1zM814.6 452.6H818.1V456.1H814.6zM821.6 452.6H825.1V456.1H821.6zM832.2 452.6H839.2V456.1H832.2zM842.7 452.6H860.3V456.1H842.7zM863.8 452.6H898.9V456.1H863.8zM905.9 452.6H912.9V456.1H905.9zM916.4 452.6H927.0V456.1H916.4zM937.5 452.6H951.6V456.1H937.5zM955.1 452.6H997.2V456.1H955.1zM1327.4 452.6H1330.9V456.1H1327.4zM200.0 456.1H203.5V459.7H200.0zM765.4 456.1H768.9V459.7H765.4zM790.0 456.1H797.0V459.7H790.0zM800.6 456.1H804.1V459.7H800.6zM807.6 456.1H849.7V459.7H807.6zM863.8 456.1H895.4V459.7H863.8zM898.9 456.1H905.9V459.7H898.9zM909.4 456.1H955.1V459.7H909.4zM965.6 456.1H997.2V459.7H965.6zM1327.4 456.1H1330.9V459.7H1327.4zM200.0 459.7H203.5V463.2H200.0zM765.4 459.7H800.6V463.2H765.4zM804.1 459.7H807.6V463.2H804.1zM811.1 459.7H846.2V463.2H811.1zM863.8 459.7H898.9V463.2H863.8zM902.4 459.7H909.4V463.2H902.4zM916.4 459.7H927.0V463.2H916.4zM937.5 459.7H948.1V463.2H937.5zM965.6 459.7H997.2V463.2H965.6zM1327.4 459.7H1330.9V463.2H1327.4zM200.0 463.2H203.5V466.7H200.0zM765.4 463.2H804.1V466.7H765.4zM807.6 463.2H811.1V466.7H807.6zM814.6 463.2H832.2V466.7H814.6zM842.7 463.2H846.2V466.7H842.7zM853.2 463.2H902.4V466.7H853.2zM905.9 463.2H948.1V466.7H905.9zM1327.4 463.2H1330.9V466.7H1327.4zM200.0 466.7H203.5V470.2H200.0zM765.4 466.7H776.0V470.2H765.4zM786.5 466.7H797.0V470.2H786.5zM804.1 466.7H807.6V470.2H804.1zM814.6 466.7H853.2V470.2H814.6zM860.3 466.7H867.3V470.2H860.3zM874.3 466.7H905.9V470.2H874.3zM912.9 466.7H927.0V470.2H912.9zM944.5 466.7H948.1V470.2H944.5zM1327.4 466.7H1330.9V470.2H1327.4zM200.0 470.2H203.5V473.7H200.0zM761.9 470.2H768.9V473.7H761.9zM783.0 470.2H786.5V473.7H783.0zM790.0 470.2H797.0V473.7H790.0zM800.6 470.2H804.1V473.7H800.6zM807.6 470.2H846.2V473.7H807.6zM849.7 470.2H860.3V473.7H849.7zM863.8 470.2H895.4V473.7H863.8zM898.9 470.2H912.9V473.7H898.9zM916.4 470.2H948.1V473.7H916.4zM1327.4 470.2H1330.9V473.7H1327.4zM105.2 473.7H119.2V477.2H105.2zM133.3 473.7H150.8V477.2H133.3zM161.4 473.7H178.9V477.2H161.4zM200.0 473.7H203.5V477.2H200.0zM712.8 473.7H744.4V477.2H712.8zM754.9 473.7H761.9V477.2H754.9zM765.4 473.7H800.6V477.2H765.4zM804.1 473.7H849.7V477.2H804.1zM853.2 473.7H898.9V477.2H853.2zM916.4 473.7H920.0V477.2H916.4zM944.5 473.7H948.1V477.2H944.5zM1327.4 473.7H1330.9V477.2H1327.4zM112.2 477.2H119.2V480.8H112.2zM129.8 477.2H136.8V480.8H129.8zM147.3 477.2H154.3V480.8H147.3zM157.9 477.2H164.9V480.8H157.9zM175.4 477.2H182.4V480.8H175.4zM200.0 477.2H203.5V480.8H200.0zM512.6 477.2H544.2V480.8H512.6zM561.7 477.2H593.3V480.8H561.7zM614.4 477.2H646.0V480.8H614.4zM663.6 477.2H695.2V480.8H663.6zM712.8 477.2H744.4V480.8H712.8zM747.9 477.2H754.9V480.8H747.9zM761.9 477.2H807.6V480.8H761.9zM814.6 477.2H884.8V480.8H814.6zM891.9 477.2H895.4V480.8H891.9zM916.4 477.2H948.1V480.8H916.4zM1327.4 477.2H1330.9V480.8H1327.4zM112.2 480.8H119.2V484.3H112.2zM129.8 480.8H136.8V484.3H129.8zM147.3 480.8H154.3V484.3H147.3zM157.9 480.8H164.9V484.3H157.9zM175.4 480.8H182.4V484.3H175.4zM200.0 480.8H203.5V484.3H200.0zM410.7 480.8H442.3V484.3H410.7zM463.4 480.8H495.0V484.3H463.4zM512.6 480.8H544.2V484.3H512.6zM561.7 480.8H593.3V484.3H561.7zM614.4 480.8H646.0V484.3H614.4zM663.6 480.8H695.2V484.3H663.6zM712.8 480.8H804.1V484.3H712.8zM811.1 480.8H818.1V484.3H811.1zM825.1 480.8H895.4V484.3H825.1zM1327.4 480.8H1330.9V484.3H1327.4zM112.2 484.3H119.2V487.8H112.2zM129.8 484.3H136.8V487.8H129.8zM147.3 484.3H154.3V487.8H147.3zM157.9 484.3H164.9V487.8H157.9zM175.4 484.3H182.4V487.8H175.4zM200.0 484.3H203.5V487.8H200.0zM361.6 484.3H393.2V487.8H361.6zM410.7 484.3H442.3V487.8H410.7zM463.4 484.3H466.9V487.8H463.4zM491.5 484.3H495.0V487.8H491.5zM512.6 484.3H544.2V487.8H512.6zM561.7 484.3H593.3V487.8H561.7zM614.4 484.3H617.9V487.8H614.4zM642.5 484.3H646.0V487.8H642.5zM663.6 484.3H667.1V487.8H663.6zM691.7 484.3H695.2V487.8H691.7zM712.8 484.3H716.3V487.8H712.8zM733.8 484.3H761.9V487.8H733.8zM765.4 484.3H768.9V487.8H765.4zM783.0 484.3H786.5V487.8H783.0zM790.0 484.3H797.0V487.8H790.0zM800.6 484.3H860.3V487.8H800.6zM863.8 484.3H895.4V487.8H863.8zM1327.4 484.3H1330.9V487.8H1327.4zM112.2 487.8H119.2V491.3H112.2zM129.8 487.8H136.8V491.3H129.8zM147.3 487.8H154.3V491.3H147.3zM157.9 487.8H164.9V491.3H157.9zM175.4 487.8H182.4V491.3H175.4zM200.0 487.8H203.5V491.3H200.0zM361.6 487.8H365.1V491.3H361.6zM389.6 487.8H393.2V491.3H389.6zM410.7 487.8H414.2V491.3H410.7zM438.8 487.8H442.3V491.3H438.8zM463.4 487.8H495.0V491.3H463.4zM512.6 487.8H544.2V491.3H512.6zM561.7 487.8H565.2V491.3H561.7zM589.8 487.8H593.3V491.3H589.8zM614.4 487.8H617.9V491.3H614.4zM642.5 487.8H646.0V491.3H642.5zM663.6 487.8H667.1V491.3H663.6zM691.7 487.8H695.2V491.3H691.7zM702.2 487.8H747.9V491.3H702.2zM754.9 487.8H849.7V491.3H754.9zM863.8 487.8H895.4V491.3H863.8zM1327.4 487.8H1330.9V491.3H1327.4zM112.2 491.3H119.2V494.8H112.2zM129.8 491.3H136.8V494.8H129.8zM147.3 491.3H154.3V494.8H147.3zM157.9 491.3H164.9V494.8H157.9zM175.4 491.3H182.4V494.8H175.4zM200.0 491.3H214.0V494.8H200.0zM361.6 491.3H365.1V494.8H361.6zM389.6 491.3H393.2V494.8H389.6zM410.7 491.3H414.2V494.8H410.7zM438.8 491.3H442.3V494.8H438.8zM463.4 491.3H466.9V494.8H463.4zM491.5 491.3H495.0V494.8H491.5zM502.0 491.3H835.7V494.8H502.0zM842.7 491.3H846.2V494.8H842.7zM863.8 491.3H895.4V494.8H863.8zM1313.3 491.3H1330.9V494.8H1313.3zM112.2 494.8H119.2V498.4H112.2zM129.8 494.8H136.8V498.4H129.8zM147.3 494.8H154.3V498.4H147.3zM157.9 494.8H164.9V498.4H157.9zM175.4 494.8H182.4V498.4H175.4zM200.0 494.8H203.5V498.4H200.0zM361.6 494.8H365.1V498.4H361.6zM389.6 494.8H393.2V498.4H389.6zM400.2 494.8H804.1V498.4H400.2zM814.6 494.8H846.2V498.4H814.6zM1327.4 494.8H1330.9V498.4H1327.4zM112.2 498.4H119.2V501.9H112.2zM129.8 498.4H136.8V501.9H129.8zM147.3 498.4H154.3V501.9H147.3zM157.9 498.4H164.9V501.9H157.9zM175.4 498.4H182.4V501.9H175.4zM200.0 498.4H203.5V501.9H200.0zM361.6 498.4H365.1V501.9H361.6zM375.6 498.4H400.2V501.9H375.6zM410.7 498.4H414.2V501.9H410.7zM417.7 498.4H452.9V501.9H417.7zM463.4 498.4H603.9V501.9H463.4zM614.4 498.4H617.9V501.9H614.4zM642.5 498.4H646.0V501.9H642.5zM663.6 498.4H667.1V501.9H663.6zM691.7 498.4H695.2V501.9H691.7zM712.8 498.4H716.3V501.9H712.8zM740.8 498.4H744.4V501.9H740.8zM765.4 498.4H768.9V501.9H765.4zM793.5 498.4H797.0V501.9H793.5zM814.6 498.4H846.2V501.9H814.6zM1327.4 498.4H1330.9V501.9H1327.4zM112.2 501.9H119.2V505.4H112.2zM129.8 501.9H136.8V505.4H129.8zM147.3 501.9H154.3V505.4H147.3zM157.9 501.9H164.9V505.4H157.9zM175.4 501.9H182.4V505.4H175.4zM200.0 501.9H203.5V505.4H200.0zM361.6 501.9H365.1V505.4H361.6zM372.1 501.9H375.6V505.4H372.1zM389.6 501.9H393.2V505.4H389.6zM410.7 501.9H424.8V505.4H410.7zM438.8 501.9H442.3V505.4H438.8zM452.9 501.9H565.2V505.4H452.9zM572.3 501.9H575.8V505.4H572.3zM589.8 501.9H593.3V505.4H589.8zM614.4 501.9H617.9V505.4H614.4zM642.5 501.9H646.0V505.4H642.5zM663.6 501.9H667.1V505.4H663.6zM691.7 501.9H695.2V505.4H691.7zM712.8 501.9H744.4V505.4H712.8zM765.4 501.9H797.0V505.4H765.4zM814.6 501.9H846.2V505.4H814.6zM1327.4 501.9H1330.9V505.4H1327.4zM105.2 505.4H126.2V508.9H105.2zM133.3 505.4H150.8V508.9H133.3zM161.4 505.4H178.9V508.9H161.4zM200.0 505.4H203.5V508.9H200.0zM361.6 505.4H365.1V508.9H361.6zM372.1 505.4H375.6V508.9H372.1zM389.6 505.4H393.2V508.9H389.6zM410.7 505.4H417.7V508.9H410.7zM421.3 505.4H424.8V508.9H421.3zM438.8 505.4H481.0V508.9H438.8zM491.5 505.4H495.0V508.9H491.5zM498.5 505.4H509.1V508.9H498.5zM512.6 505.4H544.2V508.9H512.6zM561.7 505.4H593.3V508.9H561.7zM614.4 505.4H646.0V508.9H614.4zM663.6 505.4H695.2V508.9H663.6zM712.8 505.4H744.4V508.9H712.8zM765.4 505.4H797.0V508.9H765.4zM814.6 505.4H846.2V508.9H814.6zM1327.4 505.4H1330.9V508.9H1327.4zM200.0 508.9H203.5V512.4H200.0zM361.6 508.9H365.1V512.4H361.6zM368.6 508.9H372.1V512.4H368.6zM389.6 508.9H393.2V512.4H389.6zM403.7 508.9H442.3V512.4H403.7zM456.4 508.9H498.5V512.4H456.4zM512.6 508.9H544.2V512.4H512.6zM561.7 508.9H593.3V512.4H561.7zM614.4 508.9H646.0V512.4H614.4zM663.6 508.9H695.2V512.4H663.6zM712.8 508.9H744.4V512.4H712.8zM765.4 508.9H797.0V512.4H765.4zM1327.4 508.9H1330.9V512.4H1327.4zM200.0 512.4H203.5V516.0H200.0zM361.6 512.4H393.2V516.0H361.6zM400.2 512.4H403.7V516.0H400.2zM407.2 512.4H442.3V516.0H407.2zM449.4 512.4H456.4V516.0H449.4zM463.4 512.4H466.9V516.0H463.4zM470.4 512.4H484.5V516.0H470.4zM491.5 512.4H495.0V516.0H491.5zM512.6 512.4H544.2V516.0H512.6zM561.7 512.4H593.3V516.0H561.7zM1327.4 512.4H1330.9V516.0H1327.4zM200.0 516.0H203.5V519.5H200.0zM361.6 516.0H400.2V519.5H361.6zM403.7 516.0H407.2V519.5H403.7zM410.7 516.0H417.7V519.5H410.7zM421.3 516.0H424.8V519.5H421.3zM438.8 516.0H449.4V519.5H438.8zM463.4 516.0H495.0V519.5H463.4zM512.6 516.0H544.2V519.5H512.6zM558.2 516.0H561.7V519.5H558.2zM1327.4 516.0H1330.9V519.5H1327.4zM200.0 519.5H203.5V523.0H200.0zM361.6 519.5H365.1V523.0H361.6zM389.6 519.5H393.2V523.0H389.6zM400.2 519.5H403.7V523.0H400.2zM410.7 519.5H421.3V523.0H410.7zM431.8 519.5H442.3V523.0H431.8zM463.4 519.5H466.9V523.0H463.4zM470.4 519.5H477.4V523.0H470.4zM491.5 519.5H495.0V523.0H491.5zM512.6 519.5H544.2V523.0H512.6zM554.7 519.5H558.2V523.0H554.7zM1327.4 519.5H1330.9V523.0H1327.4zM200.0 523.0H203.5V526.5H200.0zM358.0 523.0H365.1V526.5H358.0zM386.1 523.0H393.2V526.5H386.1zM400.2 523.0H403.7V526.5H400.2zM407.2 523.0H442.3V526.5H407.2zM463.4 523.0H470.4V526.5H463.4zM473.9 523.0H477.4V526.5H473.9zM491.5 523.0H495.0V526.5H491.5zM519.6 523.0H526.6V526.5H519.6zM551.2 523.0H554.7V526.5H551.2zM1327.4 523.0H1330.9V526.5H1327.4zM200.0 526.5H203.5V530.0H200.0zM354.5 526.5H358.0V530.0H354.5zM361.6 526.5H365.1V530.0H361.6zM379.1 526.5H386.1V530.0H379.1zM389.6 526.5H393.2V530.0H389.6zM396.7 526.5H400.2V530.0H396.7zM403.7 526.5H417.7V530.0H403.7zM424.8 526.5H428.3V530.0H424.8zM438.8 526.5H442.3V530.0H438.8zM463.4 526.5H495.0V530.0H463.4zM516.1 526.5H523.1V530.0H516.1zM547.7 526.5H551.2V530.0H547.7zM1327.4 526.5H1330.9V530.0H1327.4zM200.0 530.0H203.5V533.5H200.0zM354.5 530.0H358.0V533.5H354.5zM361.6 530.0H365.1V533.5H361.6zM375.6 530.0H379.1V533.5H375.6zM389.6 530.0H396.7V533.5H389.6zM400.2 530.0H403.7V533.5H400.2zM407.2 530.0H417.7V533.5H407.2zM421.3 530.0H424.8V533.5H421.3zM438.8 530.0H442.3V533.5H438.8zM463.4 530.0H470.4V533.5H463.4zM473.9 530.0H477.4V533.5H473.9zM516.1 530.0H523.1V533.5H516.1zM544.2 530.0H547.7V533.5H544.2zM1327.4 530.0H1330.9V533.5H1327.4zM200.0 533.5H203.5V537.1H200.0zM351.0 533.5H354.5V537.1H351.0zM361.6 533.5H393.2V537.1H361.6zM400.2 533.5H407.2V537.1H400.2zM410.7 533.5H414.2V537.1H410.7zM421.3 533.5H424.8V537.1H421.3zM438.8 533.5H442.3V537.1H438.8zM463.4 533.5H466.9V537.1H463.4zM470.4 533.5H473.9V537.1H470.4zM512.6 533.5H544.2V537.1H512.6zM1327.4 533.5H1330.9V537.1H1327.4zM200.0 537.1H203.5V540.6H200.0zM347.5 537.1H351.0V540.6H347.5zM361.6 537.1H365.1V540.6H361.6zM368.6 537.1H372.1V540.6H368.6zM386.1 537.1H393.2V540.6H386.1zM396.7 537.1H400.2V540.6H396.7zM403.7 537.1H407.2V540.6H403.7zM410.7 537.1H442.3V540.6H410.7zM463.4 537.1H466.9V540.6H463.4zM470.4 537.1H473.9V540.6H470.4zM512.6 537.1H519.6V540.6H512.6zM537.2 537.1H544.2V540.6H537.2zM1327.4 537.1H1330.9V540.6H1327.4zM200.0 540.6H203.5V544.1H200.0zM344.0 540.6H347.5V544.1H344.0zM361.6 540.6H365.1V544.1H361.6zM368.6 540.6H372.1V544.1H368.6zM382.6 540.6H386.1V544.1H382.6zM389.6 540.6H396.7V544.1H389.6zM400.2 540.6H403.7V544.1H400.2zM407.2 540.6H410.7V544.1H407.2zM417.7 540.6H421.3V544.1H417.7zM459.9 540.6H463.4V544.1H459.9zM470.4 540.6H473.9V544.1H470.4zM512.6 540.6H519.6V544.1H512.6zM533.6 540.6H537.2V544.1H533.6zM540.7 540.6H544.2V544.1H540.7zM1327.4 540.6H1330.9V544.1H1327.4zM200.0 544.1H203.5V547.6H200.0zM344.0 544.1H347.5V547.6H344.0zM361.6 544.1H393.2V547.6H361.6zM396.7 544.1H400.2V547.6H396.7zM407.2 544.1H410.7V547.6H407.2zM414.2 544.1H417.7V547.6H414.2zM459.9 544.1H463.4V547.6H459.9zM470.4 544.1H473.9V547.6H470.4zM512.6 544.1H519.6V547.6H512.6zM530.1 544.1H533.6V547.6H530.1zM540.7 544.1H544.2V547.6H540.7zM1327.4 544.1H1330.9V547.6H1327.4zM200.0 547.6H203.5V551.1H200.0zM340.5 547.6H344.0V551.1H340.5zM361.6 547.6H365.1V551.1H361.6zM375.6 547.6H379.1V551.1H375.6zM389.6 547.6H393.2V551.1H389.6zM396.7 547.6H400.2V551.1H396.7zM403.7 547.6H407.2V551.1H403.7zM414.2 547.6H417.7V551.1H414.2zM456.4 547.6H463.4V551.1H456.4zM466.9 547.6H470.4V551.1H466.9zM512.6 547.6H519.6V551.1H512.6zM526.6 547.6H530.1V551.1H526.6zM540.7 547.6H544.2V551.1H540.7zM1327.4 547.6H1330.9V551.1H1327.4zM200.0 551.1H203.5V554.7H200.0zM337.0 551.1H340.5V554.7H337.0zM358.0 551.1H396.7V554.7H358.0zM403.7 551.1H407.2V554.7H403.7zM410.7 551.1H414.2V554.7H410.7zM456.4 551.1H459.9V554.7H456.4zM466.9 551.1H470.4V554.7H466.9zM509.1 551.1H516.1V554.7H509.1zM523.1 551.1H526.6V554.7H523.1zM540.7 551.1H544.2V554.7H540.7zM1327.4 551.1H1330.9V554.7H1327.4zM200.0 554.7H203.5V558.2H200.0zM337.0 554.7H340.5V558.2H337.0zM354.5 554.7H358.0V558.2H354.5zM361.6 554.7H365.1V558.2H361.6zM368.6 554.7H372.1V558.2H368.6zM382.6 554.7H386.1V558.2H382.6zM389.6 554.7H396.7V558.2H389.6zM400.2 554.7H403.7V558.2H400.2zM410.7 554.7H414.2V558.2H410.7zM452.9 554.7H459.9V558.2H452.9zM466.9 554.7H470.4V558.2H466.9zM509.1 554.7H516.1V558.2H509.1zM519.6 554.7H523.1V558.2H519.6zM540.7 554.7H544.2V558.2H540.7zM1327.4 554.7H1330.9V558.2H1327.4zM200.0 558.2H203.5V561.7H200.0zM308.9 558.2H340.5V561.7H308.9zM351.0 558.2H354.5V561.7H351.0zM361.6 558.2H368.6V561.7H361.6zM379.1 558.2H382.6V561.7H379.1zM389.6 558.2H393.2V561.7H389.6zM396.7 558.2H400.2V561.7H396.7zM407.2 558.2H410.7V561.7H407.2zM452.9 558.2H459.9V561.7H452.9zM463.4 558.2H466.9V561.7H463.4zM509.1 558.2H519.6V561.7H509.1zM540.7 558.2H544.2V561.7H540.7zM1327.4 558.2H1330.9V561.7H1327.4zM200.0 561.7H203.5V565.2H200.0zM308.9 561.7H312.4V565.2H308.9zM329.9 561.7H333.5V565.2H329.9zM337.0 561.7H340.5V565.2H337.0zM351.0 561.7H354.5V565.2H351.0zM361.6 561.7H393.2V565.2H361.6zM396.7 561.7H400.2V565.2H396.7zM407.2 561.7H410.7V565.2H407.2zM452.9 561.7H456.4V565.2H452.9zM463.4 561.7H466.9V565.2H463.4zM505.5 561.7H544.2V565.2H505.5zM1327.4 561.7H1330.9V565.2H1327.4zM200.0 565.2H203.5V568.7H200.0zM308.9 565.2H312.4V568.7H308.9zM326.4 565.2H329.9V568.7H326.4zM337.0 565.2H340.5V568.7H337.0zM347.5 565.2H351.0V568.7H347.5zM361.6 565.2H365.1V568.7H361.6zM375.6 565.2H379.1V568.7H375.6zM386.1 565.2H396.7V568.7H386.1zM403.7 565.2H407.2V568.7H403.7zM449.4 565.2H456.4V568.7H449.4zM463.4 565.2H466.9V568.7H463.4zM505.5 565.2H512.6V568.7H505.5zM1327.4 565.2H1330.9V568.7H1327.4zM200.0 568.7H203.5V572.3H200.0zM308.9 568.7H312.4V572.3H308.9zM326.4 568.7H329.9V572.3H326.4zM337.0 568.7H340.5V572.3H337.0zM344.0 568.7H347.5V572.3H344.0zM358.0 568.7H396.7V572.3H358.0zM403.7 568.7H407.2V572.3H403.7zM449.4 568.7H456.4V572.3H449.4zM463.4 568.7H466.9V572.3H463.4zM505.5 568.7H512.6V572.3H505.5zM1327.4 568.7H1330.9V572.3H1327.4zM200.0 572.3H203.5V575.8H200.0zM308.9 572.3H312.4V575.8H308.9zM322.9 572.3H326.4V575.8H322.9zM337.0 572.3H344.0V575.8H337.0zM354.5 572.3H358.0V575.8H354.5zM361.6 572.3H365.1V575.8H361.6zM368.6 572.3H372.1V575.8H368.6zM382.6 572.3H386.1V575.8H382.6zM389.6 572.3H393.2V575.8H389.6zM400.2 572.3H403.7V575.8H400.2zM445.8 572.3H452.9V575.8H445.8zM459.9 572.3H463.4V575.8H459.9zM502.0 572.3H509.1V575.8H502.0zM1327.4 572.3H1330.9V575.8H1327.4zM200.0 575.8H203.5V579.3H200.0zM308.9 575.8H312.4V579.3H308.9zM319.4 575.8H322.9V579.3H319.4zM337.0 575.8H340.5V579.3H337.0zM351.0 575.8H354.5V579.3H351.0zM361.6 575.8H368.6V579.3H361.6zM379.1 575.8H382.6V579.3H379.1zM389.6 575.8H393.2V579.3H389.6zM400.2 575.8H403.7V579.3H400.2zM445.8 575.8H452.9V579.3H445.8zM459.9 575.8H463.4V579.3H459.9zM502.0 575.8H509.1V579.3H502.0zM1327.4 575.8H1330.9V579.3H1327.4zM200.0 579.3H203.5V582.8H200.0zM308.9 579.3H340.5V582.8H308.9zM347.5 579.3H351.0V582.8H347.5zM361.6 579.3H393.2V582.8H361.6zM396.7 579.3H400.2V582.8H396.7zM442.3 579.3H445.8V582.8H442.3zM449.4 579.3H452.9V582.8H449.4zM459.9 579.3H463.4V582.8H459.9zM498.5 579.3H509.1V582.8H498.5zM1327.4 579.3H1330.9V582.8H1327.4zM200.0 582.8H203.5V586.3H200.0zM308.9 582.8H315.9V586.3H308.9zM333.5 582.8H340.5V586.3H333.5zM344.0 582.8H347.5V586.3H344.0zM358.0 582.8H365.1V586.3H358.0zM375.6 582.8H379.1V586.3H375.6zM386.1 582.8H393.2V586.3H386.1zM396.7 582.8H400.2V586.3H396.7zM442.3 582.8H449.4V586.3H442.3zM456.4 582.8H459.9V586.3H456.4zM495.0 582.8H502.0V586.3H495.0zM505.5 582.8H509.1V586.3H505.5zM1327.4 582.8H1330.9V586.3H1327.4zM200.0 586.3H203.5V589.9H200.0zM308.9 586.3H344.0V589.9H308.9zM354.5 586.3H358.0V589.9H354.5zM361.6 586.3H396.7V589.9H361.6zM438.8 586.3H442.3V589.9H438.8zM445.8 586.3H449.4V589.9H445.8zM456.4 586.3H459.9V589.9H456.4zM463.4 586.3H495.0V589.9H463.4zM498.5 586.3H505.5V589.9H498.5zM1327.4 586.3H1330.9V589.9H1327.4zM200.0 589.9H203.5V593.4H200.0zM305.4 589.9H312.4V593.4H305.4zM326.4 589.9H329.9V593.4H326.4zM337.0 589.9H340.5V593.4H337.0zM351.0 589.9H354.5V593.4H351.0zM361.6 589.9H365.1V593.4H361.6zM368.6 589.9H372.1V593.4H368.6zM382.6 589.9H386.1V593.4H382.6zM389.6 589.9H396.7V593.4H389.6zM438.8 589.9H442.3V593.4H438.8zM445.8 589.9H449.4V593.4H445.8zM456.4 589.9H459.9V593.4H456.4zM463.4 589.9H466.9V593.4H463.4zM488.0 589.9H495.0V593.4H488.0zM498.5 589.9H505.5V593.4H498.5zM1327.4 589.9H1330.9V593.4H1327.4zM200.0 593.4H203.5V596.9H200.0zM301.8 593.4H305.4V596.9H301.8zM308.9 593.4H340.5V596.9H308.9zM347.5 593.4H351.0V596.9H347.5zM361.6 593.4H368.6V596.9H361.6zM379.1 593.4H382.6V596.9H379.1zM389.6 593.4H393.2V596.9H389.6zM438.8 593.4H445.8V596.9H438.8zM456.4 593.4H459.9V596.9H456.4zM463.4 593.4H466.9V596.9H463.4zM484.5 593.4H488.0V596.9H484.5zM491.5 593.4H498.5V596.9H491.5zM502.0 593.4H505.5V596.9H502.0zM1327.4 593.4H1330.9V596.9H1327.4zM200.0 596.9H203.5V600.4H200.0zM298.3 596.9H301.8V600.4H298.3zM308.9 596.9H312.4V600.4H308.9zM319.4 596.9H322.9V600.4H319.4zM333.5 596.9H340.5V600.4H333.5zM344.0 596.9H347.5V600.4H344.0zM358.0 596.9H393.2V600.4H358.0zM435.3 596.9H438.8V600.4H435.3zM442.3 596.9H445.8V600.4H442.3zM452.9 596.9H456.4V600.4H452.9zM463.4 596.9H466.9V600.4H463.4zM481.0 596.9H484.5V600.4H481.0zM491.5 596.9H502.0V600.4H491.5zM1327.4 596.9H1330.9V600.4H1327.4zM200.0 600.4H203.5V603.9H200.0zM294.8 600.4H298.3V603.9H294.8zM308.9 600.4H312.4V603.9H308.9zM315.9 600.4H319.4V603.9H315.9zM329.9 600.4H333.5V603.9H329.9zM337.0 600.4H344.0V603.9H337.0zM354.5 600.4H358.0V603.9H354.5zM361.6 600.4H365.1V603.9H361.6zM375.6 600.4H379.1V603.9H375.6zM386.1 600.4H393.2V603.9H386.1zM435.3 600.4H438.8V603.9H435.3zM442.3 600.4H445.8V603.9H442.3zM452.9 600.4H456.4V603.9H452.9zM463.4 600.4H466.9V603.9H463.4zM477.4 600.4H481.0V603.9H477.4zM491.5 600.4H502.0V603.9H491.5zM1327.4 600.4H1330.9V603.9H1327.4zM200.0 603.9H203.5V607.4H200.0zM291.3 603.9H294.8V607.4H291.3zM308.9 603.9H340.5V607.4H308.9zM351.0 603.9H354.5V607.4H351.0zM361.6 603.9H365.1V607.4H361.6zM368.6 603.9H375.6V607.4H368.6zM386.1 603.9H393.2V607.4H386.1zM431.8 603.9H435.3V607.4H431.8zM438.8 603.9H442.3V607.4H438.8zM452.9 603.9H456.4V607.4H452.9zM463.4 603.9H466.9V607.4H463.4zM473.9 603.9H477.4V607.4H473.9zM491.5 603.9H495.0V607.4H491.5zM498.5 603.9H502.0V607.4H498.5zM1327.4 603.9H1330.9V607.4H1327.4zM200.0 607.4H203.5V611.0H200.0zM259.7 607.4H291.3V611.0H259.7zM308.9 607.4H340.5V611.0H308.9zM347.5 607.4H351.0V611.0H347.5zM361.6 607.4H393.2V611.0H361.6zM410.7 607.4H442.3V611.0H410.7zM452.9 607.4H456.4V611.0H452.9zM463.4 607.4H466.9V611.0H463.4zM473.9 607.4H477.4V611.0H473.9zM491.5 607.4H495.0V611.0H491.5zM498.5 607.4H502.0V611.0H498.5zM1327.4 607.4H1330.9V611.0H1327.4zM200.0 611.0H203.5V614.5H200.0zM259.7 611.0H263.2V614.5H259.7zM284.3 611.0H291.3V614.5H284.3zM305.4 611.0H312.4V614.5H305.4zM319.4 611.0H322.9V614.5H319.4zM329.9 611.0H333.5V614.5H329.9zM337.0 611.0H340.5V614.5H337.0zM344.0 611.0H347.5V614.5H344.0zM361.6 611.0H365.1V614.5H361.6zM382.6 611.0H386.1V614.5H382.6zM389.6 611.0H393.2V614.5H389.6zM410.7 611.0H414.2V614.5H410.7zM428.3 611.0H431.8V614.5H428.3zM435.3 611.0H442.3V614.5H435.3zM449.4 611.0H452.9V614.5H449.4zM463.4 611.0H466.9V614.5H463.4zM470.4 611.0H473.9V614.5H470.4zM491.5 611.0H498.5V614.5H491.5zM1327.4 611.0H1330.9V614.5H1327.4zM200.0 614.5H203.5V618.0H200.0zM259.7 614.5H263.2V618.0H259.7zM280.8 614.5H284.3V618.0H280.8zM287.8 614.5H291.3V618.0H287.8zM301.8 614.5H305.4V618.0H301.8zM308.9 614.5H344.0V618.0H308.9zM354.5 614.5H393.2V618.0H354.5zM410.7 614.5H414.2V618.0H410.7zM428.3 614.5H431.8V618.0H428.3zM435.3 614.5H442.3V618.0H435.3zM449.4 614.5H452.9V618.0H449.4zM463.4 614.5H498.5V618.0H463.4zM1327.4 614.5H1330.9V618.0H1327.4zM200.0 618.0H203.5V621.5H200.0zM259.7 618.0H263.2V621.5H259.7zM277.3 618.0H280.8V621.5H277.3zM287.8 618.0H291.3V621.5H287.8zM298.3 618.0H301.8V621.5H298.3zM308.9 618.0H315.9V621.5H308.9zM322.9 618.0H326.4V621.5H322.9zM333.5 618.0H340.5V621.5H333.5zM351.0 618.0H354.5V621.5H351.0zM361.6 618.0H365.1V621.5H361.6zM379.1 618.0H382.6V621.5H379.1zM389.6 618.0H393.2V621.5H389.6zM410.7 618.0H414.2V621.5H410.7zM424.8 618.0H428.3V621.5H424.8zM435.3 618.0H442.3V621.5H435.3zM449.4 618.0H452.9V621.5H449.4zM463.4 618.0H466.9V621.5H463.4zM488.0 618.0H491.5V621.5H488.0zM495.0 618.0H498.5V621.5H495.0zM1327.4 618.0H1330.9V621.5H1327.4zM200.0 621.5H203.5V625.0H200.0zM259.7 621.5H263.2V625.0H259.7zM273.8 621.5H277.3V625.0H273.8zM287.8 621.5H291.3V625.0H287.8zM294.8 621.5H298.3V625.0H294.8zM308.9 621.5H340.5V625.0H308.9zM347.5 621.5H351.0V625.0H347.5zM361.6 621.5H365.1V625.0H361.6zM375.6 621.5H379.1V625.0H375.6zM389.6 621.5H393.2V625.0H389.6zM410.7 621.5H414.2V625.0H410.7zM424.8 621.5H428.3V625.0H424.8zM431.8 621.5H435.3V625.0H431.8zM438.8 621.5H442.3V625.0H438.8zM445.8 621.5H449.4V625.0H445.8zM463.4 621.5H466.9V625.0H463.4zM488.0 621.5H495.0V625.0H488.0zM1327.4 621.5H1330.9V625.0H1327.4zM200.0 625.0H203.5V628.6H200.0zM259.7 625.0H263.2V628.6H259.7zM270.2 625.0H273.8V628.6H270.2zM287.8 625.0H294.8V628.6H287.8zM305.4 625.0H347.5V628.6H305.4zM361.6 625.0H365.1V628.6H361.6zM368.6 625.0H375.6V628.6H368.6zM389.6 625.0H393.2V628.6H389.6zM410.7 625.0H414.2V628.6H410.7zM417.7 625.0H424.8V628.6H417.7zM431.8 625.0H435.3V628.6H431.8zM438.8 625.0H442.3V628.6H438.8zM445.8 625.0H449.4V628.6H445.8zM459.9 625.0H463.4V628.6H459.9zM488.0 625.0H495.0V628.6H488.0zM1327.4 625.0H1330.9V628.6H1327.4zM200.0 628.6H203.5V632.1H200.0zM259.7 628.6H291.3V632.1H259.7zM298.3 628.6H305.4V632.1H298.3zM308.9 628.6H315.9V632.1H308.9zM322.9 628.6H326.4V632.1H322.9zM337.0 628.6H340.5V632.1H337.0zM361.6 628.6H368.6V632.1H361.6zM389.6 628.6H393.2V632.1H389.6zM410.7 628.6H417.7V632.1H410.7zM431.8 628.6H435.3V632.1H431.8zM438.8 628.6H442.3V632.1H438.8zM445.8 628.6H449.4V632.1H445.8zM456.4 628.6H459.9V632.1H456.4zM484.5 628.6H488.0V632.1H484.5zM491.5 628.6H495.0V632.1H491.5zM1327.4 628.6H1330.9V632.1H1327.4zM200.0 632.1H203.5V635.6H200.0zM259.7 632.1H266.7V635.6H259.7zM284.3 632.1H291.3V635.6H284.3zM294.8 632.1H298.3V635.6H294.8zM308.9 632.1H340.5V635.6H308.9zM358.0 632.1H365.1V635.6H358.0zM389.6 632.1H393.2V635.6H389.6zM407.2 632.1H442.3V635.6H407.2zM445.8 632.1H449.4V635.6H445.8zM452.9 632.1H456.4V635.6H452.9zM484.5 632.1H488.0V635.6H484.5zM491.5 632.1H495.0V635.6H491.5zM1327.4 632.1H1330.9V635.6H1327.4zM200.0 635.6H203.5V639.1H200.0zM259.7 635.6H294.8V639.1H259.7zM305.4 635.6H312.4V639.1H305.4zM315.9 635.6H319.4V639.1H315.9zM326.4 635.6H333.5V639.1H326.4zM337.0 635.6H340.5V639.1H337.0zM354.5 635.6H358.0V639.1H354.5zM361.6 635.6H393.2V639.1H361.6zM400.2 635.6H407.2V639.1H400.2zM410.7 635.6H445.8V639.1H410.7zM452.9 635.6H456.4V639.1H452.9zM484.5 635.6H491.5V639.1H484.5zM1327.4 635.6H1330.9V639.1H1327.4zM200.0 639.1H203.5V642.6H200.0zM256.2 639.1H291.3V642.6H256.2zM298.3 639.1H305.4V642.6H298.3zM308.9 639.1H315.9V642.6H308.9zM322.9 639.1H326.4V642.6H322.9zM337.0 639.1H340.5V642.6H337.0zM347.5 639.1H354.5V642.6H347.5zM361.6 639.1H393.2V642.6H361.6zM396.7 639.1H400.2V642.6H396.7zM410.7 639.1H414.2V642.6H410.7zM428.3 639.1H431.8V642.6H428.3zM438.8 639.1H445.8V642.6H438.8zM449.4 639.1H452.9V642.6H449.4zM463.4 639.1H495.0V642.6H463.4zM1327.4 639.1H1330.9V642.6H1327.4zM200.0 642.6H203.5V646.2H200.0zM249.2 642.6H256.2V646.2H249.2zM259.7 642.6H263.2V646.2H259.7zM273.8 642.6H277.3V646.2H273.8zM284.3 642.6H291.3V646.2H284.3zM294.8 642.6H298.3V646.2H294.8zM308.9 642.6H340.5V646.2H308.9zM344.0 642.6H347.5V646.2H344.0zM361.6 642.6H365.1V646.2H361.6zM389.6 642.6H396.7V646.2H389.6zM410.7 642.6H414.2V646.2H410.7zM424.8 642.6H428.3V646.2H424.8zM438.8 642.6H449.4V646.2H438.8zM463.4 642.6H466.9V646.2H463.4zM481.0 642.6H484.5V646.2H481.0zM488.0 642.6H495.0V646.2H488.0zM1327.4 642.6H1330.9V646.2H1327.4zM200.0 646.2H203.5V649.7H200.0zM245.7 646.2H249.2V649.7H245.7zM259.7 646.2H263.2V649.7H259.7zM270.2 646.2H273.8V649.7H270.2zM280.8 646.2H284.3V649.7H280.8zM287.8 646.2H294.8V649.7H287.8zM305.4 646.2H312.4V649.7H305.4zM315.9 646.2H319.4V649.7H315.9zM337.0 646.2H344.0V649.7H337.0zM361.6 646.2H365.1V649.7H361.6zM386.1 646.2H393.2V649.7H386.1zM410.7 646.2H414.2V649.7H410.7zM424.8 646.2H428.3V649.7H424.8zM438.8 646.2H445.8V649.7H438.8zM463.4 646.2H466.9V649.7H463.4zM481.0 646.2H488.0V649.7H481.0zM491.5 646.2H495.0V649.7H491.5zM1327.4 646.2H1330.9V649.7H1327.4zM200.0 649.7H203.5V653.2H200.0zM242.1 649.7H245.7V653.2H242.1zM259.7 649.7H291.3V653.2H259.7zM298.3 649.7H305.4V653.2H298.3zM308.9 649.7H315.9V653.2H308.9zM333.5 649.7H340.5V653.2H333.5zM361.6 649.7H365.1V653.2H361.6zM379.1 649.7H386.1V653.2H379.1zM389.6 649.7H393.2V653.2H389.6zM410.7 649.7H414.2V653.2H410.7zM421.3 649.7H424.8V653.2H421.3zM438.8 649.7H445.8V653.2H438.8zM463.4 649.7H466.9V653.2H463.4zM477.4 649.7H481.0V653.2H477.4zM484.5 649.7H488.0V653.2H484.5zM491.5 649.7H495.0V653.2H491.5zM1327.4 649.7H1330.9V653.2H1327.4zM200.0 653.2H203.5V656.7H200.0zM210.5 653.2H242.1V656.7H210.5zM259.7 653.2H263.2V656.7H259.7zM273.8 653.2H277.3V656.7H273.8zM284.3 653.2H291.3V656.7H284.3zM294.8 653.2H298.3V656.7H294.8zM308.9 653.2H340.5V656.7H308.9zM361.6 653.2H365.1V656.7H361.6zM375.6 653.2H379.1V656.7H375.6zM389.6 653.2H393.2V656.7H389.6zM410.7 653.2H414.2V656.7H410.7zM417.7 653.2H421.3V656.7H417.7zM438.8 653.2H442.3V656.7H438.8zM463.4 653.2H466.9V656.7H463.4zM477.4 653.2H481.0V656.7H477.4zM484.5 653.2H488.0V656.7H484.5zM491.5 653.2H495.0V656.7H491.5zM1327.4 653.2H1330.9V656.7H1327.4zM200.0 656.7H203.5V660.2H200.0zM210.5 656.7H214.0V660.2H210.5zM235.1 656.7H242.1V660.2H235.1zM256.2 656.7H294.8V660.2H256.2zM305.4 656.7H312.4V660.2H305.4zM322.9 656.7H326.4V660.2H322.9zM337.0 656.7H340.5V660.2H337.0zM361.6 656.7H365.1V660.2H361.6zM368.6 656.7H375.6V660.2H368.6zM389.6 656.7H393.2V660.2H389.6zM410.7 656.7H442.3V660.2H410.7zM463.4 656.7H466.9V660.2H463.4zM470.4 656.7H477.4V660.2H470.4zM481.0 656.7H484.5V660.2H481.0zM491.5 656.7H495.0V660.2H491.5zM1327.4 656.7H1330.9V660.2H1327.4zM200.0 660.2H203.5V663.8H200.0zM210.5 660.2H214.0V663.8H210.5zM231.6 660.2H235.1V663.8H231.6zM238.6 660.2H242.1V663.8H238.6zM249.2 660.2H256.2V663.8H249.2zM259.7 660.2H291.3V663.8H259.7zM298.3 660.2H305.4V663.8H298.3zM308.9 660.2H312.4V663.8H308.9zM319.4 660.2H322.9V663.8H319.4zM337.0 660.2H340.5V663.8H337.0zM361.6 660.2H368.6V663.8H361.6zM389.6 660.2H393.2V663.8H389.6zM410.7 660.2H442.3V663.8H410.7zM463.4 660.2H495.0V663.8H463.4zM1327.4 660.2H1330.9V663.8H1327.4zM200.0 663.8H203.5V667.3H200.0zM210.5 663.8H214.0V667.3H210.5zM228.1 663.8H231.6V667.3H228.1zM238.6 663.8H242.1V667.3H238.6zM245.7 663.8H249.2V667.3H245.7zM259.7 663.8H263.2V667.3H259.7zM273.8 663.8H277.3V667.3H273.8zM284.3 663.8H291.3V667.3H284.3zM294.8 663.8H298.3V667.3H294.8zM308.9 663.8H312.4V667.3H308.9zM315.9 663.8H319.4V667.3H315.9zM337.0 663.8H340.5V667.3H337.0zM358.0 663.8H365.1V667.3H358.0zM389.6 663.8H393.2V667.3H389.6zM407.2 663.8H414.2V667.3H407.2zM431.8 663.8H442.3V667.3H431.8zM463.4 663.8H466.9V667.3H463.4zM481.0 663.8H484.5V667.3H481.0zM491.5 663.8H495.0V667.3H491.5zM1327.4 663.8H1330.9V667.3H1327.4zM200.0 667.3H203.5V670.8H200.0zM210.5 667.3H245.7V670.8H210.5zM252.7 667.3H294.8V670.8H252.7zM308.9 667.3H315.9V670.8H308.9zM337.0 667.3H340.5V670.8H337.0zM354.5 667.3H358.0V670.8H354.5zM361.6 667.3H393.2V670.8H361.6zM400.2 667.3H407.2V670.8H400.2zM410.7 667.3H414.2V670.8H410.7zM428.3 667.3H431.8V670.8H428.3zM435.3 667.3H442.3V670.8H435.3zM456.4 667.3H495.0V670.8H456.4zM1327.4 667.3H1330.9V670.8H1327.4zM136.8 670.8H154.3V674.3H136.8zM161.4 670.8H178.9V674.3H161.4zM200.0 670.8H203.5V674.3H200.0zM210.5 670.8H214.0V674.3H210.5zM217.6 670.8H224.6V674.3H217.6zM238.6 670.8H242.1V674.3H238.6zM249.2 670.8H252.7V674.3H249.2zM259.7 670.8H291.3V674.3H259.7zM305.4 670.8H340.5V674.3H305.4zM347.5 670.8H354.5V674.3H347.5zM396.7 670.8H400.2V674.3H396.7zM410.7 670.8H414.2V674.3H410.7zM424.8 670.8H428.3V674.3H424.8zM435.3 670.8H442.3V674.3H435.3zM452.9 670.8H456.4V674.3H452.9zM463.4 670.8H466.9V674.3H463.4zM477.4 670.8H481.0V674.3H477.4zM491.5 670.8H495.0V674.3H491.5zM1327.4 670.8H1330.9V674.3H1327.4zM133.3 674.3H150.8V677.8H133.3zM157.9 674.3H164.9V677.8H157.9zM175.4 674.3H182.4V677.8H175.4zM200.0 674.3H203.5V677.8H200.0zM210.5 674.3H249.2V677.8H210.5zM256.2 674.3H263.2V677.8H256.2zM273.8 674.3H277.3V677.8H273.8zM284.3 674.3H291.3V677.8H284.3zM301.8 674.3H305.4V677.8H301.8zM308.9 674.3H340.5V677.8H308.9zM344.0 674.3H347.5V677.8H344.0zM393.2 674.3H396.7V677.8H393.2zM410.7 674.3H414.2V677.8H410.7zM417.7 674.3H424.8V677.8H417.7zM431.8 674.3H435.3V677.8H431.8zM438.8 674.3H442.3V677.8H438.8zM449.4 674.3H452.9V677.8H449.4zM463.4 674.3H466.9V677.8H463.4zM477.4 674.3H481.0V677.8H477.4zM491.5 674.3H495.0V677.8H491.5zM1327.4 674.3H1330.9V677.8H1327.4zM133.3 677.8H136.8V681.3H133.3zM157.9 677.8H164.9V681.3H157.9zM175.4 677.8H182.4V681.3H175.4zM200.0 677.8H203.5V681.3H200.0zM210.5 677.8H214.0V681.3H210.5zM228.1 677.8H231.6V681.3H228.1zM238.6 677.8H242.1V681.3H238.6zM249.2 677.8H256.2V681.3H249.2zM259.7 677.8H291.3V681.3H259.7zM298.3 677.8H301.8V681.3H298.3zM308.9 677.8H312.4V681.3H308.9zM337.0 677.8H344.0V681.3H337.0zM361.6 677.8H393.2V681.3H361.6zM410.7 677.8H449.4V681.3H410.7zM463.4 677.8H466.9V681.3H463.4zM470.4 677.8H477.4V681.3H470.4zM491.5 677.8H495.0V681.3H491.5zM1327.4 677.8H1330.9V681.3H1327.4zM133.3 681.3H147.3V684.9H133.3zM157.9 681.3H164.9V684.9H157.9zM175.4 681.3H182.4V684.9H175.4zM200.0 681.3H242.1V684.9H200.0zM245.7 681.3H249.2V684.9H245.7zM259.7 681.3H266.7V684.9H259.7zM277.3 681.3H280.8V684.9H277.3zM287.8 681.3H291.3V684.9H287.8zM294.8 681.3H298.3V684.9H294.8zM308.9 681.3H312.4V684.9H308.9zM333.5 681.3H340.5V684.9H333.5zM361.6 681.3H365.1V684.9H361.6zM386.1 681.3H393.2V684.9H386.1zM403.7 681.3H414.2V684.9H403.7zM431.8 681.3H435.3V684.9H431.8zM438.8 681.3H442.3V684.9H438.8zM463.4 681.3H470.4V684.9H463.4zM491.5 681.3H495.0V684.9H491.5zM1327.4 681.3H1330.9V684.9H1327.4zM129.8 684.9H150.8V688.4H129.8zM157.9 684.9H164.9V688.4H157.9zM175.4 684.9H182.4V688.4H175.4zM200.0 684.9H203.5V688.4H200.0zM210.5 684.9H214.0V688.4H210.5zM217.6 684.9H224.6V688.4H217.6zM228.1 684.9H235.1V688.4H228.1zM238.6 684.9H245.7V688.4H238.6zM256.2 684.9H294.8V688.4H256.2zM308.9 684.9H312.4V688.4H308.9zM326.4 684.9H333.5V688.4H326.4zM337.0 684.9H340.5V688.4H337.0zM361.6 684.9H393.2V688.4H361.6zM400.2 684.9H403.7V688.4H400.2zM410.7 684.9H442.3V688.4H410.7zM459.9 684.9H466.9V688.4H459.9zM491.5 684.9H495.0V688.4H491.5zM1327.4 684.9H1330.9V688.4H1327.4zM143.8 688.4H154.3V691.9H143.8zM157.9 688.4H164.9V691.9H157.9zM175.4 688.4H182.4V691.9H175.4zM200.0 688.4H217.6V691.9H200.0zM224.6 688.4H228.1V691.9H224.6zM235.1 688.4H242.1V691.9H235.1zM249.2 688.4H256.2V691.9H249.2zM259.7 688.4H291.3V691.9H259.7zM308.9 688.4H312.4V691.9H308.9zM322.9 688.4H326.4V691.9H322.9zM337.0 688.4H340.5V691.9H337.0zM361.6 688.4H365.1V691.9H361.6zM379.1 688.4H382.6V691.9H379.1zM389.6 688.4H400.2V691.9H389.6zM410.7 688.4H442.3V691.9H410.7zM452.9 688.4H459.9V691.9H452.9zM463.4 688.4H495.0V691.9H463.4zM1313.3 688.4H1330.9V691.9H1313.3zM150.8 691.9H154.3V695.4H150.8zM157.9 691.9H164.9V695.4H157.9zM175.4 691.9H182.4V695.4H175.4zM200.0 691.9H203.5V695.4H200.0zM207.0 691.9H242.1V695.4H207.0zM245.7 691.9H249.2V695.4H245.7zM259.7 691.9H266.7V695.4H259.7zM280.8 691.9H284.3V695.4H280.8zM287.8 691.9H291.3V695.4H287.8zM308.9 691.9H312.4V695.4H308.9zM319.4 691.9H322.9V695.4H319.4zM337.0 691.9H340.5V695.4H337.0zM361.6 691.9H393.2V695.4H361.6zM410.7 691.9H442.3V695.4H410.7zM445.8 691.9H452.9V695.4H445.8zM1327.4 691.9H1330.9V695.4H1327.4zM150.8 695.4H154.3V698.9H150.8zM157.9 695.4H164.9V698.9H157.9zM175.4 695.4H182.4V698.9H175.4zM200.0 695.4H207.0V698.9H200.0zM210.5 695.4H245.7V698.9H210.5zM256.2 695.4H263.2V698.9H256.2zM277.3 695.4H280.8V698.9H277.3zM287.8 695.4H291.3V698.9H287.8zM308.9 695.4H319.4V698.9H308.9zM337.0 695.4H340.5V698.9H337.0zM361.6 695.4H365.1V698.9H361.6zM368.6 695.4H375.6V698.9H368.6zM379.1 695.4H386.1V698.9H379.1zM389.6 695.4H393.2V698.9H389.6zM407.2 695.4H421.3V698.9H407.2zM428.3 695.4H431.8V698.9H428.3zM438.8 695.4H445.8V698.9H438.8zM1327.4 695.4H1330.9V698.9H1327.4zM129.8 698.9H140.3V702.5H129.8zM147.3 698.9H150.8V702.5H147.3zM157.9 698.9H164.9V702.5H157.9zM175.4 698.9H182.4V702.5H175.4zM200.0 698.9H221.1V702.5H200.0zM235.1 698.9H242.1V702.5H235.1zM249.2 698.9H256.2V702.5H249.2zM259.7 698.9H291.3V702.5H259.7zM308.9 698.9H312.4V702.5H308.9zM337.0 698.9H340.5V702.5H337.0zM361.6 698.9H368.6V702.5H361.6zM375.6 698.9H379.1V702.5H375.6zM389.6 698.9H393.2V702.5H389.6zM396.7 698.9H407.2V702.5H396.7zM410.7 698.9H414.2V702.5H410.7zM424.8 698.9H428.3V702.5H424.8zM435.3 698.9H442.3V702.5H435.3zM1327.4 698.9H1330.9V702.5H1327.4zM129.8 702.5H147.3V706.0H129.8zM161.4 702.5H178.9V706.0H161.4zM200.0 702.5H203.5V706.0H200.0zM207.0 702.5H242.1V706.0H207.0zM245.7 702.5H249.2V706.0H245.7zM259.7 702.5H263.2V706.0H259.7zM266.7 702.5H273.8V706.0H266.7zM287.8 702.5H291.3V706.0H287.8zM305.4 702.5H340.5V706.0H305.4zM358.0 702.5H396.7V706.0H358.0zM410.7 702.5H414.2V706.0H410.7zM421.3 702.5H435.3V706.0H421.3zM438.8 702.5H442.3V706.0H438.8zM1327.4 702.5H1330.9V706.0H1327.4zM200.0 706.0H207.0V709.5H200.0zM210.5 706.0H214.0V709.5H210.5zM221.1 706.0H228.1V709.5H221.1zM238.6 706.0H245.7V709.5H238.6zM259.7 706.0H266.7V709.5H259.7zM287.8 706.0H291.3V709.5H287.8zM298.3 706.0H305.4V709.5H298.3zM354.5 706.0H358.0V709.5H354.5zM361.6 706.0H393.2V709.5H361.6zM407.2 706.0H442.3V709.5H407.2zM1327.4 706.0H1330.9V709.5H1327.4zM200.0 709.5H203.5V713.0H200.0zM210.5 709.5H242.1V713.0H210.5zM252.7 709.5H263.2V713.0H252.7zM287.8 709.5H291.3V713.0H287.8zM294.8 709.5H298.3V713.0H294.8zM347.5 709.5H365.1V713.0H347.5zM368.6 709.5H375.6V713.0H368.6zM389.6 709.5H393.2V713.0H389.6zM396.7 709.5H407.2V713.0H396.7zM410.7 709.5H421.3V713.0H410.7zM438.8 709.5H442.3V713.0H438.8zM1327.4 709.5H1330.9V713.0H1327.4zM200.0 713.0H203.5V716.5H200.0zM207.0 713.0H242.1V716.5H207.0zM249.2 713.0H252.7V716.5H249.2zM259.7 713.0H294.8V716.5H259.7zM308.9 713.0H340.5V716.5H308.9zM344.0 713.0H354.5V716.5H344.0zM361.6 713.0H396.7V716.5H361.6zM407.2 713.0H414.2V716.5H407.2zM438.8 713.0H442.3V716.5H438.8zM1327.4 713.0H1330.9V716.5H1327.4zM200.0 716.5H207.0V720.1H200.0zM210.5 716.5H214.0V720.1H210.5zM221.1 716.5H228.1V720.1H221.1zM238.6 716.5H249.2V720.1H238.6zM259.7 716.5H263.2V720.1H259.7zM287.8 716.5H291.3V720.1H287.8zM308.9 716.5H312.4V720.1H308.9zM337.0 716.5H347.5V720.1H337.0zM358.0 716.5H365.1V720.1H358.0zM375.6 716.5H382.6V720.1H375.6zM389.6 716.5H393.2V720.1H389.6zM396.7 716.5H407.2V720.1H396.7zM410.7 716.5H442.3V720.1H410.7zM1327.4 716.5H1330.9V720.1H1327.4zM200.0 720.1H203.5V723.6H200.0zM210.5 720.1H242.1V723.6H210.5zM259.7 720.1H263.2V723.6H259.7zM280.8 720.1H291.3V723.6H280.8zM308.9 720.1H312.4V723.6H308.9zM333.5 720.1H340.5V723.6H333.5zM351.0 720.1H358.0V723.6H351.0zM361.6 720.1H396.7V723.6H361.6zM410.7 720.1H442.3V723.6H410.7zM1327.4 720.1H1330.9V723.6H1327.4zM200.0 723.6H203.5V727.1H200.0zM207.0 723.6H214.0V727.1H207.0zM228.1 723.6H235.1V727.1H228.1zM238.6 723.6H242.1V727.1H238.6zM259.7 723.6H263.2V727.1H259.7zM277.3 723.6H280.8V727.1H277.3zM287.8 723.6H291.3V727.1H287.8zM308.9 723.6H340.5V727.1H308.9zM344.0 723.6H351.0V727.1H344.0zM361.6 723.6H368.6V727.1H361.6zM382.6 723.6H393.2V727.1H382.6zM1327.4 723.6H1330.9V727.1H1327.4zM200.0 727.1H207.0V730.6H200.0zM210.5 727.1H214.0V730.6H210.5zM221.1 727.1H228.1V730.6H221.1zM238.6 727.1H242.1V730.6H238.6zM259.7 727.1H263.2V730.6H259.7zM273.8 727.1H277.3V730.6H273.8zM287.8 727.1H291.3V730.6H287.8zM308.9 727.1H312.4V730.6H308.9zM319.4 727.1H326.4V730.6H319.4zM337.0 727.1H344.0V730.6H337.0zM354.5 727.1H365.1V730.6H354.5zM372.1 727.1H382.6V730.6H372.1zM389.6 727.1H393.2V730.6H389.6zM1327.4 727.1H1330.9V730.6H1327.4zM200.0 730.6H203.5V734.1H200.0zM210.5 730.6H242.1V734.1H210.5zM259.7 730.6H263.2V734.1H259.7zM266.7 730.6H273.8V734.1H266.7zM287.8 730.6H291.3V734.1H287.8zM308.9 730.6H340.5V734.1H308.9zM347.5 730.6H354.5V734.1H347.5zM361.6 730.6H393.2V734.1H361.6zM1327.4 730.6H1330.9V734.1H1327.4zM200.0 734.1H203.5V737.7H200.0zM207.0 734.1H214.0V737.7H207.0zM238.6 734.1H242.1V737.7H238.6zM259.7 734.1H291.3V737.7H259.7zM305.4 734.1H347.5V737.7H305.4zM354.5 734.1H365.1V737.7H354.5zM389.6 734.1H393.2V737.7H389.6zM1327.4 734.1H1330.9V737.7H1327.4zM200.0 737.7H207.0V741.2H200.0zM210.5 737.7H214.0V741.2H210.5zM238.6 737.7H242.1V741.2H238.6zM252.7 737.7H291.3V741.2H252.7zM294.8 737.7H305.4V741.2H294.8zM308.9 737.7H312.4V741.2H308.9zM319.4 737.7H326.4V741.2H319.4zM333.5 737.7H340.5V741.2H333.5zM347.5 737.7H354.5V741.2H347.5zM361.6 737.7H365.1V741.2H361.6zM389.6 737.7H393.2V741.2H389.6zM1327.4 737.7H1330.9V741.2H1327.4zM200.0 741.2H203.5V744.7H200.0zM210.5 741.2H242.1V744.7H210.5zM249.2 741.2H252.7V744.7H249.2zM259.7 741.2H298.3V744.7H259.7zM308.9 741.2H347.5V744.7H308.9zM361.6 741.2H393.2V744.7H361.6zM1327.4 741.2H1330.9V744.7H1327.4zM200.0 744.7H203.5V748.2H200.0zM210.5 744.7H249.2V748.2H210.5zM259.7 744.7H291.3V748.2H259.7zM298.3 744.7H312.4V748.2H298.3zM319.4 744.7H326.4V748.2H319.4zM329.9 744.7H340.5V748.2H329.9zM1327.4 744.7H1330.9V748.2H1327.4zM200.0 748.2H203.5V751.7H200.0zM210.5 748.2H242.1V751.7H210.5zM259.7 748.2H298.3V751.7H259.7zM305.4 748.2H329.9V751.7H305.4zM337.0 748.2H340.5V751.7H337.0zM1327.4 748.2H1330.9V751.7H1327.4zM200.0 751.7H203.5V755.2H200.0zM210.5 751.7H242.1V755.2H210.5zM249.2 751.7H277.3V755.2H249.2zM280.8 751.7H291.3V755.2H280.8zM294.8 751.7H340.5V755.2H294.8zM1327.4 751.7H1330.9V755.2H1327.4zM200.0 755.2H305.4V758.8H200.0zM308.9 755.2H312.4V758.8H308.9zM337.0 755.2H340.5V758.8H337.0zM1327.4 755.2H1330.9V758.8H1327.4zM200.0 758.8H294.8V762.3H200.0zM308.9 758.8H340.5V762.3H308.9zM1327.4 758.8H1330.9V762.3H1327.4zM200.0 762.3H291.3V765.8H200.0zM308.9 762.3H340.5V765.8H308.9zM1327.4 762.3H1330.9V765.8H1327.4zM200.0 765.8H203.5V769.3H200.0zM210.5 765.8H291.3V769.3H210.5zM1327.4 765.8H1330.9V769.3H1327.4zM200.0 769.3H249.2V772.8H200.0zM259.7 769.3H291.3V772.8H259.7zM1327.4 769.3H1330.9V772.8H1327.4zM200.0 772.8H242.1V776.4H200.0zM259.7 772.8H291.3V776.4H259.7zM1327.4 772.8H1330.9V776.4H1327.4zM200.0 776.4H242.1V779.9H200.0zM259.7 776.4H291.3V779.9H259.7zM1327.4 776.4H1330.9V779.9H1327.4zM200.0 779.9H203.5V783.4H200.0zM210.5 779.9H242.1V783.4H210.5zM1327.4 779.9H1330.9V783.4H1327.4zM200.0 783.4H203.5V786.9H200.0zM210.5 783.4H242.1V786.9H210.5zM1327.4 783.4H1330.9V786.9H1327.4zM200.0 786.9H203.5V790.4H200.0zM210.5 786.9H242.1V790.4H210.5zM1327.4 786.9H1330.9V790.4H1327.4zM200.0 790.4H203.5V794.0H200.0zM1327.4 790.4H1330.9V794.0H1327.4zM200.0 794.0H203.5V797.5H200.0zM1327.4 794.0H1330.9V797.5H1327.4zM200.0 797.5H203.5V801.0H200.0zM1327.4 797.5H1330.9V801.0H1327.4zM200.0 801.0H203.5V804.5H200.0zM1327.4 801.0H1330.9V804.5H1327.4zM200.0 804.5H203.5V808.0H200.0zM1327.4 804.5H1330.9V808.0H1327.4zM200.0 808.0H203.5V811.6H200.0zM1327.4 808.0H1330.9V811.6H1327.4zM200.0 811.6H203.5V815.1H200.0zM1327.4 811.6H1330.9V815.1H1327.4zM200.0 815.1H203.5V818.6H200.0zM1327.4 815.1H1330.9V818.6H1327.4zM200.0 818.6H203.5V822.1H200.0zM1327.4 818.6H1330.9V822.1H1327.4zM200.0 822.1H203.5V825.6H200.0zM1327.4 822.1H1330.9V825.6H1327.4zM200.0 825.6H203.5V829.1H200.0zM1327.4 825.6H1330.9V829.1H1327.4zM200.0 829.1H203.5V832.7H200.0zM1327.4 829.1H1330.9V832.7H1327.4zM200.0 832.7H203.5V836.2H200.0zM214.0 832.7H217.6V836.2H214.0zM396.7 832.7H400.2V836.2H396.7zM575.8 832.7H579.3V836.2H575.8zM758.4 832.7H761.9V836.2H758.4zM941.0 832.7H944.5V836.2H941.0zM1120.1 832.7H1123.7V836.2H1120.1zM1302.8 832.7H1306.3V836.2H1302.8zM1327.4 832.7H1330.9V836.2H1327.4zM200.0 836.2H203.5V839.7H200.0zM214.0 836.2H217.6V839.7H214.0zM396.7 836.2H400.2V839.7H396.7zM575.8 836.2H579.3V839.7H575.8zM758.4 836.2H761.9V839.7H758.4zM941.0 836.2H944.5V839.7H941.0zM1120.1 836.2H1123.7V839.7H1120.1zM1302.8 836.2H1306.3V839.7H1302.8zM1327.4 836.2H1330.9V839.7H1327.4zM200.0 839.7H203.5V843.2H200.0zM214.0 839.7H217.6V843.2H214.0zM396.7 839.7H400.2V843.2H396.7zM575.8 839.7H579.3V843.2H575.8zM758.4 839.7H761.9V843.2H758.4zM941.0 839.7H944.5V843.2H941.0zM1120.1 839.7H1123.7V843.2H1120.1zM1302.8 839.7H1306.3V843.2H1302.8zM1327.4 839.7H1330.9V843.2H1327.4zM200.0 843.2H203.5V846.7H200.0zM214.0 843.2H217.6V846.7H214.0zM396.7 843.2H400.2V846.7H396.7zM575.8 843.2H579.3V846.7H575.8zM758.4 843.2H761.9V846.7H758.4zM941.0 843.2H944.5V846.7H941.0zM1120.1 843.2H1123.7V846.7H1120.1zM1302.8 843.2H1306.3V846.7H1302.8zM1327.4 843.2H1330.9V846.7H1327.4zM200.0 846.7H1330.9V850.3H200.0zM182.4 871.4H200.0V874.9H182.4zM228.1 871.4H238.6V874.9H228.1zM365.1 871.4H382.6V874.9H365.1zM421.3 871.4H424.8V874.9H421.3zM544.2 871.4H561.7V874.9H544.2zM589.8 871.4H607.4V874.9H589.8zM726.8 871.4H744.4V874.9H726.8zM779.5 871.4H790.0V874.9H779.5zM909.4 871.4H927.0V874.9H909.4zM955.1 871.4H976.2V874.9H955.1zM1088.5 871.4H1106.1V874.9H1088.5zM1130.7 871.4H1148.2V874.9H1130.7zM1271.2 871.4H1288.7V874.9H1271.2zM1313.3 871.4H1330.9V874.9H1313.3zM178.9 874.9H186.0V878.4H178.9zM196.5 874.9H203.5V878.4H196.5zM224.6 874.9H242.1V878.4H224.6zM361.6 874.9H368.6V878.4H361.6zM379.1 874.9H386.1V878.4H379.1zM417.7 874.9H424.8V878.4H417.7zM540.7 874.9H547.7V878.4H540.7zM558.2 874.9H565.2V878.4H558.2zM586.3 874.9H603.9V878.4H586.3zM723.3 874.9H730.3V878.4H723.3zM740.8 874.9H747.9V878.4H740.8zM772.5 874.9H783.0V878.4H772.5zM905.9 874.9H912.9V878.4H905.9zM923.5 874.9H930.5V878.4H923.5zM951.6 874.9H972.6V878.4H951.6zM1085.0 874.9H1092.0V878.4H1085.0zM1102.6 874.9H1109.6V878.4H1102.6zM1127.2 874.9H1134.2V878.4H1127.2zM1144.7 874.9H1151.8V878.4H1144.7zM1267.6 874.9H1274.7V878.4H1267.6zM1285.2 874.9H1292.2V878.4H1285.2zM1309.8 874.9H1316.8V878.4H1309.8zM1327.4 874.9H1334.4V878.4H1327.4zM178.9 878.4H186.0V881.9H178.9zM196.5 878.4H203.5V881.9H196.5zM221.1 878.4H224.6V881.9H221.1zM235.1 878.4H242.1V881.9H235.1zM361.6 878.4H368.6V881.9H361.6zM379.1 878.4H386.1V881.9H379.1zM414.2 878.4H424.8V881.9H414.2zM540.7 878.4H547.7V881.9H540.7zM558.2 878.4H565.2V881.9H558.2zM586.3 878.4H589.8V881.9H586.3zM723.3 878.4H730.3V881.9H723.3zM740.8 878.4H747.9V881.9H740.8zM768.9 878.4H776.0V881.9H768.9zM905.9 878.4H912.9V881.9H905.9zM923.5 878.4H930.5V881.9H923.5zM951.6 878.4H955.1V881.9H951.6zM969.1 878.4H972.6V881.9H969.1zM1085.0 878.4H1092.0V881.9H1085.0zM1102.6 878.4H1109.6V881.9H1102.6zM1127.2 878.4H1134.2V881.9H1127.2zM1144.7 878.4H1151.8V881.9H1144.7zM1267.6 878.4H1274.7V881.9H1267.6zM1285.2 878.4H1292.2V881.9H1285.2zM1309.8 878.4H1316.8V881.9H1309.8zM1327.4 878.4H1334.4V881.9H1327.4zM178.9 881.9H186.0V885.4H178.9zM196.5 881.9H203.5V885.4H196.5zM235.1 881.9H238.6V885.4H235.1zM361.6 881.9H368.6V885.4H361.6zM379.1 881.9H386.1V885.4H379.1zM410.7 881.9H414.2V885.4H410.7zM417.7 881.9H424.8V885.4H417.7zM540.7 881.9H547.7V885.4H540.7zM558.2 881.9H565.2V885.4H558.2zM586.3 881.9H600.4V885.4H586.3zM723.3 881.9H730.3V885.4H723.3zM740.8 881.9H747.9V885.4H740.8zM768.9 881.9H786.5V885.4H768.9zM905.9 881.9H912.9V885.4H905.9zM923.5 881.9H930.5V885.4H923.5zM969.1 881.9H972.6V885.4H969.1zM1085.0 881.9H1092.0V885.4H1085.0zM1102.6 881.9H1109.6V885.4H1102.6zM1127.2 881.9H1137.7V885.4H1127.2zM1144.7 881.9H1148.2V885.4H1144.7zM1267.6 881.9H1274.7V885.4H1267.6zM1285.2 881.9H1292.2V885.4H1285.2zM1309.8 881.9H1316.8V885.4H1309.8zM1327.4 881.9H1334.4V885.4H1327.4zM178.9 885.4H186.0V889.0H178.9zM196.5 885.4H203.5V889.0H196.5zM228.1 885.4H238.6V889.0H228.1zM361.6 885.4H368.6V889.0H361.6zM379.1 885.4H386.1V889.0H379.1zM407.2 885.4H410.7V889.0H407.2zM417.7 885.4H424.8V889.0H417.7zM540.7 885.4H547.7V889.0H540.7zM558.2 885.4H565.2V889.0H558.2zM582.8 885.4H603.9V889.0H582.8zM723.3 885.4H730.3V889.0H723.3zM740.8 885.4H747.9V889.0H740.8zM765.4 885.4H772.5V889.0H765.4zM783.0 885.4H790.0V889.0H783.0zM905.9 885.4H912.9V889.0H905.9zM923.5 885.4H930.5V889.0H923.5zM965.6 885.4H969.1V889.0H965.6zM1085.0 885.4H1092.0V889.0H1085.0zM1102.6 885.4H1109.6V889.0H1102.6zM1130.7 885.4H1144.7V889.0H1130.7zM1267.6 885.4H1274.7V889.0H1267.6zM1285.2 885.4H1292.2V889.0H1285.2zM1309.8 885.4H1316.8V889.0H1309.8zM1327.4 885.4H1334.4V889.0H1327.4zM178.9 889.0H186.0V892.5H178.9zM196.5 889.0H203.5V892.5H196.5zM235.1 889.0H245.7V892.5H235.1zM361.6 889.0H368.6V892.5H361.6zM379.1 889.0H386.1V892.5H379.1zM403.7 889.0H407.2V892.5H403.7zM417.7 889.0H424.8V892.5H417.7zM540.7 889.0H547.7V892.5H540.7zM558.2 889.0H565.2V892.5H558.2zM596.9 889.0H607.4V892.5H596.9zM723.3 889.0H730.3V892.5H723.3zM740.8 889.0H747.9V892.5H740.8zM765.4 889.0H772.5V892.5H765.4zM783.0 889.0H790.0V892.5H783.0zM905.9 889.0H912.9V892.5H905.9zM923.5 889.0H930.5V892.5H923.5zM965.6 889.0H969.1V892.5H965.6zM1085.0 889.0H1092.0V892.5H1085.0zM1102.6 889.0H1109.6V892.5H1102.6zM1134.2 889.0H1148.2V892.5H1134.2zM1267.6 889.0H1274.7V892.5H1267.6zM1285.2 889.0H1292.2V892.5H1285.2zM1309.8 889.0H1316.8V892.5H1309.8zM1327.4 889.0H1334.4V892.5H1327.4zM178.9 892.5H186.0V896.0H178.9zM196.5 892.5H203.5V896.0H196.5zM238.6 892.5H245.7V896.0H238.6zM361.6 892.5H368.6V896.0H361.6zM379.1 892.5H386.1V896.0H379.1zM403.7 892.5H428.3V896.0H403.7zM540.7 892.5H547.7V896.0H540.7zM558.2 892.5H565.2V896.0H558.2zM603.9 892.5H607.4V896.0H603.9zM723.3 892.5H730.3V896.0H723.3zM740.8 892.5H747.9V896.0H740.8zM765.4 892.5H772.5V896.0H765.4zM783.0 892.5H790.0V896.0H783.0zM905.9 892.5H912.9V896.0H905.9zM923.5 892.5H930.5V896.0H923.5zM962.1 892.5H965.6V896.0H962.1zM1085.0 892.5H1092.0V896.0H1085.0zM1102.6 892.5H1109.6V896.0H1102.6zM1130.7 892.5H1134.2V896.0H1130.7zM1137.7 892.5H1151.8V896.0H1137.7zM1267.6 892.5H1274.7V896.0H1267.6zM1285.2 892.5H1292.2V896.0H1285.2zM1313.3 892.5H1330.9V896.0H1313.3zM178.9 896.0H186.0V899.5H178.9zM196.5 896.0H203.5V899.5H196.5zM238.6 896.0H245.7V899.5H238.6zM361.6 896.0H368.6V899.5H361.6zM379.1 896.0H386.1V899.5H379.1zM403.7 896.0H428.3V899.5H403.7zM540.7 896.0H547.7V899.5H540.7zM558.2 896.0H565.2V899.5H558.2zM603.9 896.0H607.4V899.5H603.9zM723.3 896.0H730.3V899.5H723.3zM740.8 896.0H747.9V899.5H740.8zM765.4 896.0H772.5V899.5H765.4zM783.0 896.0H790.0V899.5H783.0zM905.9 896.0H912.9V899.5H905.9zM923.5 896.0H930.5V899.5H923.5zM962.1 896.0H965.6V899.5H962.1zM1085.0 896.0H1092.0V899.5H1085.0zM1102.6 896.0H1109.6V899.5H1102.6zM1127.2 896.0H1134.2V899.5H1127.2zM1144.7 896.0H1151.8V899.5H1144.7zM1267.6 896.0H1274.7V899.5H1267.6zM1285.2 896.0H1292.2V899.5H1285.2zM1323.8 896.0H1330.9V899.5H1323.8zM178.9 899.5H186.0V903.0H178.9zM196.5 899.5H203.5V903.0H196.5zM210.5 899.5H217.6V903.0H210.5zM221.1 899.5H228.1V903.0H221.1zM238.6 899.5H242.1V903.0H238.6zM361.6 899.5H368.6V903.0H361.6zM379.1 899.5H386.1V903.0H379.1zM393.2 899.5H400.2V903.0H393.2zM417.7 899.5H424.8V903.0H417.7zM540.7 899.5H547.7V903.0H540.7zM558.2 899.5H565.2V903.0H558.2zM572.3 899.5H579.3V903.0H572.3zM582.8 899.5H593.3V903.0H582.8zM600.4 899.5H603.9V903.0H600.4zM723.3 899.5H730.3V903.0H723.3zM740.8 899.5H747.9V903.0H740.8zM754.9 899.5H761.9V903.0H754.9zM765.4 899.5H772.5V903.0H765.4zM783.0 899.5H790.0V903.0H783.0zM905.9 899.5H912.9V903.0H905.9zM923.5 899.5H930.5V903.0H923.5zM937.5 899.5H944.5V903.0H937.5zM962.1 899.5H965.6V903.0H962.1zM1085.0 899.5H1092.0V903.0H1085.0zM1102.6 899.5H1109.6V903.0H1102.6zM1116.6 899.5H1123.7V903.0H1116.6zM1127.2 899.5H1134.2V903.0H1127.2zM1144.7 899.5H1151.8V903.0H1144.7zM1267.6 899.5H1274.7V903.0H1267.6zM1285.2 899.5H1292.2V903.0H1285.2zM1299.3 899.5H1306.3V903.0H1299.3zM1316.8 899.5H1327.4V903.0H1316.8zM182.4 903.0H200.0V906.6H182.4zM210.5 903.0H217.6V906.6H210.5zM221.1 903.0H238.6V906.6H221.1zM365.1 903.0H382.6V906.6H365.1zM393.2 903.0H400.2V906.6H393.2zM417.7 903.0H424.8V906.6H417.7zM544.2 903.0H561.7V906.6H544.2zM572.3 903.0H579.3V906.6H572.3zM582.8 903.0H600.4V906.6H582.8zM726.8 903.0H744.4V906.6H726.8zM754.9 903.0H761.9V906.6H754.9zM768.9 903.0H786.5V906.6H768.9zM909.4 903.0H927.0V906.6H909.4zM937.5 903.0H944.5V906.6H937.5zM958.6 903.0H962.1V906.6H958.6zM1088.5 903.0H1106.1V906.6H1088.5zM1116.6 903.0H1123.7V906.6H1116.6zM1130.7 903.0H1148.2V906.6H1130.7zM1271.2 903.0H1288.7V906.6H1271.2zM1299.3 903.0H1306.3V906.6H1299.3zM1309.8 903.0H1320.3V906.6H1309.8z"/>
<path fill="#ff1a1f" d="M744.4 413.9H747.9V417.4H744.4zM396.7 417.4H403.7V420.9H396.7zM747.9 417.4H754.9V420.9H747.9zM386.1 420.9H403.7V424.5H386.1zM751.4 420.9H765.4V424.5H751.4zM379.1 424.5H776.0V428.0H379.1zM386.1 428.0H403.7V431.5H386.1zM751.4 428.0H765.4V431.5H751.4zM396.7 431.5H403.7V435.0H396.7zM747.9 431.5H758.4V435.0H747.9zM744.4 435.0H747.9V438.5H744.4z"/><path fill="#ff9a40" d="M403.7 413.9H407.2V417.4H403.7zM747.9 420.9H751.4V424.5H747.9zM375.6 424.5H379.1V428.0H375.6zM747.9 428.0H751.4V431.5H747.9zM403.7 435.0H407.2V438.5H403.7z"/><path fill="#fff5b0" d="M740.8 413.9H744.4V417.4H740.8zM382.6 420.9H386.1V424.5H382.6zM382.6 428.0H386.1V431.5H382.6zM740.8 435.0H744.4V438.5H740.8z"/><path fill="#ffd8a0" d="M393.2 417.4H396.7V420.9H393.2zM744.4 417.4H747.9V420.9H744.4zM393.2 431.5H396.7V435.0H393.2zM744.4 431.5H747.9V435.0H744.4z"/><path fill="#ff1f6f" d="M407.2 413.9H410.7V417.4H407.2zM403.7 417.4H407.2V420.9H403.7zM754.9 417.4H758.4V420.9H754.9zM765.4 428.0H768.9V431.5H765.4zM403.7 431.5H407.2V435.0H403.7zM407.2 435.0H410.7V438.5H407.2zM747.9 435.0H751.4V438.5H747.9z"/><path fill="#ffa0ff" d="M747.9 413.9H751.4V417.4H747.9zM403.7 420.9H407.2V424.5H403.7zM765.4 420.9H768.9V424.5H765.4zM403.7 428.0H407.2V431.5H403.7zM758.4 431.5H761.9V435.0H758.4z"/><path fill="#ffe0ff" d="M407.2 417.4H410.7V420.9H407.2zM776.0 424.5H779.5V428.0H776.0zM768.9 428.0H772.5V431.5H768.9zM407.2 431.5H410.7V435.0H407.2z"/>
<path fill="#ffffe0" d="M846.2 920.6H849.7V924.2H846.2zM849.7 924.2H853.2V927.7H849.7zM653.0 927.7H656.6V931.2H653.0zM667.1 931.2H670.6V934.7H667.1zM821.6 931.2H825.1V934.7H821.6zM688.2 938.2H691.7V941.8H688.2zM768.9 938.2H772.5V941.8H768.9zM779.5 941.8H783.0V945.3H779.5zM818.1 941.8H821.6V945.3H818.1zM663.6 945.3H667.1V948.8H663.6zM709.2 945.3H712.8V948.8H709.2zM726.8 945.3H730.3V948.8H726.8zM761.9 945.3H765.4V948.8H761.9zM779.5 945.3H783.0V948.8H779.5zM870.8 945.3H874.3V948.8H870.8zM744.4 948.8H747.9V952.3H744.4zM870.8 948.8H874.3V952.3H870.8zM688.2 952.3H691.7V955.8H688.2zM814.6 952.3H818.1V955.8H814.6zM870.8 952.3H874.3V955.8H870.8zM660.1 955.8H663.6V959.3H660.1zM705.7 955.8H709.2V959.3H705.7zM870.8 955.8H874.3V959.3H870.8zM740.8 959.3H744.4V962.9H740.8zM870.8 959.3H874.3V962.9H870.8zM684.7 962.9H688.2V966.4H684.7zM870.8 962.9H874.3V966.4H870.8zM656.6 966.4H660.1V969.9H656.6zM702.2 966.4H705.7V969.9H702.2zM776.0 966.4H779.5V969.9H776.0zM870.8 966.4H874.3V969.9H870.8zM719.8 969.9H723.3V973.4H719.8zM737.3 969.9H740.8V973.4H737.3z"/><path fill="#c08060" d="M849.7 920.6H853.2V924.2H849.7zM772.5 938.2H776.0V941.8H772.5zM779.5 966.4H783.0V969.9H779.5z"/><path fill="#404040" d="M853.2 920.6H856.7V924.2H853.2zM828.6 924.2H832.2V927.7H828.6zM825.1 934.7H828.6V938.2H825.1z"/><path fill="#404060" d="M856.7 920.6H860.3V924.2H856.7zM821.6 945.3H825.1V948.8H821.6z"/><path fill="#80c0e0" d="M860.3 920.6H863.8V924.2H860.3zM702.2 938.2H705.7V941.8H702.2zM674.1 969.9H677.6V973.4H674.1z"/><path fill="#e0a040" d="M656.6 924.2H660.1V927.7H656.6zM825.1 927.7H828.6V931.2H825.1zM853.2 927.7H856.7V931.2H853.2zM853.2 931.2H856.7V934.7H853.2zM853.2 934.7H856.7V938.2H853.2zM821.6 938.2H825.1V941.8H821.6zM853.2 938.2H856.7V941.8H853.2zM853.2 941.8H856.7V945.3H853.2zM853.2 945.3H856.7V948.8H853.2zM691.7 948.8H695.2V952.3H691.7zM761.9 948.8H765.4V952.3H761.9zM818.1 948.8H821.6V952.3H818.1zM853.2 948.8H856.7V952.3H853.2zM663.6 952.3H667.1V955.8H663.6zM709.2 952.3H712.8V955.8H709.2zM853.2 952.3H856.7V955.8H853.2zM853.2 955.8H856.7V959.3H853.2zM758.4 959.3H761.9V962.9H758.4zM853.2 959.3H856.7V962.9H853.2zM853.2 962.9H856.7V966.4H853.2zM723.3 966.4H726.8V969.9H723.3zM853.2 966.4H856.7V969.9H853.2z"/><path fill="#200000" d="M660.1 924.2H663.6V927.7H660.1zM674.1 927.7H677.6V931.2H674.1zM776.0 938.2H779.5V941.8H776.0zM670.6 941.8H674.1V945.3H670.6zM856.7 941.8H860.3V945.3H856.7zM874.3 941.8H877.8V945.3H874.3zM667.1 952.3H670.6V955.8H667.1zM761.9 955.8H765.4V959.3H761.9zM691.7 959.3H695.2V962.9H691.7zM761.9 959.3H765.4V962.9H761.9zM663.6 962.9H667.1V966.4H663.6zM709.2 962.9H712.8V966.4H709.2zM744.4 966.4H747.9V969.9H744.4zM761.9 966.4H765.4V969.9H761.9zM688.2 969.9H691.7V973.4H688.2zM853.2 969.9H856.7V973.4H853.2z"/><path fill="#000000" d="M663.6 924.2H695.2V927.7H663.6zM674.1 931.2H677.6V934.7H674.1zM695.2 938.2H698.7V941.8H695.2zM730.3 938.2H733.8V941.8H730.3zM747.9 938.2H751.4V941.8H747.9zM779.5 938.2H786.5V941.8H779.5zM867.3 938.2H874.3V941.8H867.3zM716.3 945.3H719.8V948.8H716.3zM733.8 945.3H737.3V948.8H733.8zM779.5 952.3H783.0V955.8H779.5zM765.4 955.8H768.9V959.3H765.4zM663.6 966.4H667.1V969.9H663.6zM656.6 969.9H670.6V973.4H656.6zM691.7 969.9H695.2V973.4H691.7zM744.4 969.9H747.9V973.4H744.4zM765.4 969.9H776.0V973.4H765.4zM856.7 969.9H860.3V973.4H856.7zM874.3 969.9H881.3V973.4H874.3z"/><path fill="#2060a0" d="M695.2 924.2H698.7V927.7H695.2zM674.1 941.8H677.6V945.3H674.1zM719.8 945.3H723.3V948.8H719.8zM733.8 952.3H737.3V955.8H733.8zM818.1 959.3H821.6V962.9H818.1zM814.6 969.9H818.1V973.4H814.6z"/><path fill="#a06020" d="M698.7 924.2H702.2V927.7H698.7zM656.6 927.7H660.1V931.2H656.6zM691.7 938.2H695.2V941.8H691.7zM874.3 948.8H877.8V952.3H874.3zM874.3 952.3H877.8V955.8H874.3zM663.6 955.8H667.1V959.3H663.6zM709.2 955.8H712.8V959.3H709.2zM874.3 955.8H877.8V959.3H874.3zM744.4 959.3H747.9V962.9H744.4zM874.3 959.3H877.8V962.9H874.3zM688.2 962.9H691.7V966.4H688.2zM874.3 962.9H877.8V966.4H874.3zM660.1 966.4H663.6V969.9H660.1zM874.3 966.4H877.8V969.9H874.3zM723.3 969.9H726.8V973.4H723.3z"/><path fill="#000020" d="M702.2 924.2H705.7V927.7H702.2zM702.2 927.7H705.7V931.2H702.2zM674.1 934.7H677.6V938.2H674.1zM698.7 938.2H702.2V941.8H698.7zM716.3 938.2H719.8V941.8H716.3zM874.3 938.2H877.8V941.8H874.3zM733.8 941.8H737.3V945.3H733.8zM751.4 941.8H754.9V945.3H751.4zM786.5 941.8H790.0V945.3H786.5zM670.6 945.3H674.1V948.8H670.6zM786.5 945.3H790.0V948.8H786.5zM667.1 955.8H670.6V959.3H667.1zM768.9 955.8H772.5V959.3H768.9zM761.9 962.9H765.4V966.4H761.9zM709.2 966.4H712.8V969.9H709.2zM747.9 969.9H751.4V973.4H747.9zM776.0 969.9H779.5V973.4H776.0zM860.3 969.9H863.8V973.4H860.3z"/><path fill="#60c0e0" d="M705.7 924.2H709.2V927.7H705.7zM705.7 927.7H709.2V931.2H705.7zM677.6 934.7H681.1V938.2H677.6zM877.8 938.2H881.3V941.8H877.8zM712.8 966.4H716.3V969.9H712.8z"/><path fill="#ffe0a0" d="M825.1 924.2H828.6V927.7H825.1zM653.0 931.2H656.6V934.7H653.0zM821.6 934.7H825.1V938.2H821.6zM740.8 938.2H744.4V941.8H740.8zM691.7 945.3H695.2V948.8H691.7zM818.1 945.3H821.6V948.8H818.1zM663.6 948.8H667.1V952.3H663.6zM709.2 948.8H712.8V952.3H709.2zM744.4 952.3H747.9V955.8H744.4zM688.2 955.8H691.7V959.3H688.2zM660.1 959.3H663.6V962.9H660.1zM705.7 959.3H709.2V962.9H705.7zM723.3 962.9H726.8V966.4H723.3zM740.8 962.9H744.4V966.4H740.8zM649.5 969.9H653.0V973.4H649.5z"/><path fill="#a0e0ff" d="M832.2 924.2H835.7V927.7H832.2zM695.2 931.2H698.7V934.7H695.2zM828.6 934.7H832.2V938.2H828.6zM754.9 938.2H758.4V941.8H754.9zM702.2 941.8H705.7V945.3H702.2zM825.1 945.3H828.6V948.8H825.1zM881.3 945.3H884.8V948.8H881.3zM674.1 948.8H677.6V952.3H674.1zM737.3 948.8H740.8V952.3H737.3zM754.9 948.8H758.4V952.3H754.9zM881.3 948.8H884.8V952.3H881.3zM698.7 952.3H702.2V955.8H698.7zM768.9 952.3H772.5V955.8H768.9zM881.3 952.3H884.8V955.8H881.3zM821.6 955.8H825.1V959.3H821.6zM881.3 955.8H884.8V959.3H881.3zM670.6 959.3H674.1V962.9H670.6zM733.8 959.3H737.3V962.9H733.8zM881.3 959.3H884.8V962.9H881.3zM881.3 962.9H884.8V966.4H881.3zM818.1 966.4H821.6V969.9H818.1zM881.3 966.4H884.8V969.9H881.3z"/><path fill="#c08040" d="M853.2 924.2H856.7V927.7H853.2zM667.1 941.8H670.6V945.3H667.1zM712.8 941.8H716.3V945.3H712.8zM747.9 945.3H751.4V948.8H747.9zM726.8 955.8H730.3V959.3H726.8zM758.4 962.9H761.9V966.4H758.4zM740.8 969.9H744.4V973.4H740.8zM811.1 969.9H814.6V973.4H811.1z"/><path fill="#200020" d="M856.7 924.2H860.3V927.7H856.7zM856.7 927.7H860.3V931.2H856.7zM856.7 931.2H860.3V934.7H856.7zM856.7 934.7H860.3V938.2H856.7zM856.7 938.2H860.3V941.8H856.7zM716.3 941.8H719.8V945.3H716.3zM751.4 945.3H754.9V948.8H751.4zM856.7 945.3H860.3V948.8H856.7zM695.2 948.8H698.7V952.3H695.2zM765.4 948.8H768.9V952.3H765.4zM856.7 948.8H860.3V952.3H856.7zM712.8 952.3H716.3V955.8H712.8zM856.7 952.3H860.3V955.8H856.7zM730.3 955.8H733.8V959.3H730.3zM747.9 955.8H751.4V959.3H747.9zM856.7 955.8H860.3V959.3H856.7zM856.7 959.3H860.3V962.9H856.7zM856.7 962.9H860.3V966.4H856.7zM726.8 966.4H730.3V969.9H726.8zM856.7 966.4H860.3V969.9H856.7z"/><path fill="#40a0e0" d="M860.3 924.2H863.8V927.7H860.3zM860.3 927.7H863.8V931.2H860.3zM828.6 931.2H832.2V934.7H828.6zM860.3 931.2H863.8V934.7H860.3zM860.3 934.7H863.8V938.2H860.3zM754.9 941.8H758.4V945.3H754.9zM790.0 941.8H793.5V945.3H790.0zM860.3 945.3H863.8V948.8H860.3zM698.7 948.8H702.2V952.3H698.7zM860.3 948.8H863.8V952.3H860.3zM716.3 952.3H719.8V955.8H716.3zM860.3 952.3H863.8V955.8H860.3zM670.6 955.8H674.1V959.3H670.6zM860.3 955.8H863.8V959.3H860.3zM860.3 959.3H863.8V962.9H860.3zM860.3 962.9H863.8V966.4H860.3zM730.3 966.4H733.8V969.9H730.3zM860.3 966.4H863.8V969.9H860.3z"/><path fill="#4060a0" d="M660.1 927.7H663.6V931.2H660.1zM821.6 948.8H825.1V952.3H821.6zM783.0 952.3H786.5V955.8H783.0z"/><path fill="#c0c0e0" d="M663.6 927.7H667.1V931.2H663.6z"/><path fill="#e0e0e0" d="M667.1 927.7H670.6V931.2H667.1zM684.7 927.7H688.2V931.2H684.7z"/><path fill="#c0a060" d="M670.6 927.7H674.1V931.2H670.6zM849.7 969.9H853.2V973.4H849.7z"/><path fill="#002060" d="M677.6 927.7H681.1V931.2H677.6zM674.1 938.2H677.6V941.8H674.1zM733.8 938.2H737.3V941.8H733.8zM698.7 941.8H702.2V945.3H698.7zM877.8 945.3H881.3V948.8H877.8zM765.4 952.3H768.9V955.8H765.4zM730.3 959.3H733.8V962.9H730.3zM709.2 969.9H712.8V973.4H709.2zM881.3 969.9H884.8V973.4H881.3z"/><path fill="#a0c0e0" d="M681.1 927.7H684.7V931.2H681.1zM656.6 934.7H660.1V938.2H656.6z"/><path fill="#c0c0a0" d="M688.2 927.7H691.7V931.2H688.2z"/><path fill="#604020" d="M691.7 927.7H695.2V931.2H691.7zM776.0 952.3H779.5V955.8H776.0z"/><path fill="#4080a0" d="M695.2 927.7H698.7V931.2H695.2z"/><path fill="#804000" d="M698.7 927.7H702.2V931.2H698.7zM670.6 934.7H674.1V938.2H670.6zM768.9 941.8H772.5V945.3H768.9zM730.3 948.8H733.8V952.3H730.3z"/><path fill="#4040a0" d="M828.6 927.7H832.2V931.2H828.6zM825.1 938.2H828.6V941.8H825.1z"/><path fill="#e0ffff" d="M832.2 927.7H835.7V931.2H832.2zM681.1 931.2H684.7V934.7H681.1zM695.2 934.7H698.7V938.2H695.2zM828.6 938.2H832.2V941.8H828.6zM677.6 941.8H681.1V945.3H677.6zM702.2 945.3H705.7V948.8H702.2zM723.3 945.3H726.8V948.8H723.3zM825.1 948.8H828.6V952.3H825.1zM674.1 952.3H677.6V955.8H674.1zM737.3 952.3H740.8V955.8H737.3zM754.9 952.3H758.4V955.8H754.9zM786.5 952.3H790.0V955.8H786.5zM779.5 955.8H783.0V959.3H779.5zM821.6 959.3H825.1V962.9H821.6zM716.3 962.9H719.8V966.4H716.3zM733.8 962.9H737.3V966.4H733.8zM751.4 966.4H754.9V969.9H751.4zM786.5 966.4H790.0V969.9H786.5zM783.0 969.9H786.5V973.4H783.0zM818.1 969.9H821.6V973.4H818.1z"/><path fill="#604060" d="M656.6 931.2H660.1V934.7H656.6z"/><path fill="#c0e0ff" d="M660.1 931.2H663.6V934.7H660.1zM677.6 938.2H681.1V941.8H677.6zM737.3 938.2H740.8V941.8H737.3zM881.3 941.8H884.8V945.3H881.3zM740.8 945.3H744.4V948.8H740.8zM751.4 962.9H754.9V966.4H751.4zM695.2 966.4H698.7V969.9H695.2zM698.7 969.9H702.2V973.4H698.7zM712.8 969.9H716.3V973.4H712.8zM772.5 973.4H776.0V976.9H772.5zM814.6 973.4H818.1V976.9H814.6z"/><path fill="#c08020" d="M670.6 931.2H674.1V934.7H670.6z"/><path fill="#2080c0" d="M677.6 931.2H681.1V934.7H677.6z"/><path fill="#ffffc0" d="M688.2 931.2H691.7V934.7H688.2zM688.2 934.7H691.7V938.2H688.2zM691.7 941.8H695.2V945.3H691.7zM765.4 941.8H768.9V945.3H765.4zM723.3 959.3H726.8V962.9H723.3zM811.1 962.9H814.6V966.4H811.1zM758.4 969.9H761.9V973.4H758.4z"/><path fill="#804060" d="M691.7 931.2H695.2V934.7H691.7z"/><path fill="#ffe0e0" d="M698.7 931.2H702.2V934.7H698.7zM765.4 973.4H768.9V976.9H765.4z"/><path fill="#e0e0ff" d="M702.2 931.2H705.7V934.7H702.2z"/><path fill="#a04040" d="M825.1 931.2H828.6V934.7H825.1zM821.6 941.8H825.1V945.3H821.6zM818.1 952.3H821.6V955.8H818.1z"/><path fill="#ffe0c0" d="M653.0 934.7H656.6V938.2H653.0zM667.1 934.7H670.6V938.2H667.1zM726.8 948.8H730.3V952.3H726.8zM758.4 952.3H761.9V955.8H758.4zM684.7 966.4H688.2V969.9H684.7zM702.2 969.9H705.7V973.4H702.2z"/><path fill="#ffffff" d="M660.1 934.7H663.6V938.2H660.1zM663.6 941.8H667.1V945.3H663.6zM709.2 941.8H712.8V945.3H709.2zM744.4 945.3H747.9V948.8H744.4zM688.2 948.8H691.7V952.3H688.2zM758.4 948.8H761.9V952.3H758.4zM772.5 948.8H776.0V952.3H772.5zM814.6 948.8H818.1V952.3H814.6zM719.8 952.3H723.3V955.8H719.8zM723.3 955.8H726.8V959.3H723.3zM754.9 955.8H758.4V959.3H754.9zM698.7 959.3H702.2V962.9H698.7zM754.9 959.3H758.4V962.9H754.9zM768.9 959.3H772.5V962.9H768.9zM811.1 959.3H814.6V962.9H811.1zM754.9 962.9H758.4V966.4H754.9zM768.9 962.9H772.5V966.4H768.9zM670.6 966.4H674.1V969.9H670.6zM733.8 966.4H737.3V969.9H733.8zM754.9 969.9H758.4V973.4H754.9zM807.6 969.9H811.1V973.4H807.6zM846.2 969.9H849.7V973.4H846.2zM807.6 973.4H811.1V976.9H807.6z"/><path fill="#a0a0c0" d="M691.7 934.7H695.2V938.2H691.7z"/><path fill="#ffc080" d="M667.1 938.2H670.6V941.8H667.1zM726.8 952.3H730.3V955.8H726.8zM811.1 966.4H814.6V969.9H811.1z"/><path fill="#400000" d="M670.6 938.2H674.1V941.8H670.6zM783.0 948.8H786.5V952.3H783.0zM730.3 952.3H733.8V955.8H730.3z"/><path fill="#e0c080" d="M709.2 938.2H712.8V941.8H709.2zM723.3 938.2H726.8V941.8H723.3zM779.5 948.8H783.0V952.3H779.5z"/><path fill="#402000" d="M712.8 938.2H716.3V941.8H712.8zM726.8 938.2H730.3V941.8H726.8zM695.2 945.3H698.7V948.8H695.2zM667.1 948.8H670.6V952.3H667.1zM712.8 948.8H716.3V952.3H712.8zM726.8 962.9H730.3V966.4H726.8z"/><path fill="#4080c0" d="M719.8 938.2H723.3V941.8H719.8zM768.9 948.8H772.5V952.3H768.9zM751.4 955.8H754.9V959.3H751.4zM695.2 959.3H698.7V962.9H695.2zM765.4 959.3H768.9V962.9H765.4zM712.8 962.9H716.3V966.4H712.8zM765.4 962.9H768.9V966.4H765.4zM667.1 966.4H670.6V969.9H667.1zM783.0 966.4H786.5V969.9H783.0zM779.5 969.9H783.0V973.4H779.5zM863.8 969.9H867.3V973.4H863.8z"/><path fill="#602000" d="M744.4 938.2H747.9V941.8H744.4zM747.9 952.3H751.4V955.8H747.9zM761.9 952.3H765.4V955.8H761.9zM691.7 955.8H695.2V959.3H691.7zM663.6 959.3H667.1V962.9H663.6zM709.2 959.3H712.8V962.9H709.2zM744.4 962.9H747.9V966.4H744.4zM688.2 966.4H691.7V969.9H688.2zM653.0 969.9H656.6V973.4H653.0zM705.7 969.9H709.2V973.4H705.7z"/><path fill="#002040" d="M751.4 938.2H754.9V941.8H751.4zM772.5 941.8H776.0V945.3H772.5zM768.9 945.3H772.5V948.8H768.9zM670.6 948.8H674.1V952.3H670.6zM733.8 948.8H737.3V952.3H733.8zM751.4 948.8H754.9V952.3H751.4zM877.8 948.8H881.3V952.3H877.8zM695.2 952.3H698.7V955.8H695.2zM877.8 952.3H881.3V955.8H877.8zM712.8 955.8H716.3V959.3H712.8zM877.8 955.8H881.3V959.3H877.8zM667.1 959.3H670.6V962.9H667.1zM877.8 959.3H881.3V962.9H877.8zM877.8 962.9H881.3V966.4H877.8zM877.8 966.4H881.3V969.9H877.8zM670.6 969.9H674.1V973.4H670.6zM726.8 969.9H730.3V973.4H726.8z"/><path fill="#204080" d="M786.5 938.2H790.0V941.8H786.5zM695.2 955.8H698.7V959.3H695.2zM712.8 959.3H716.3V962.9H712.8zM667.1 962.9H670.6V966.4H667.1z"/><path fill="#c0ffff" d="M790.0 938.2H793.5V941.8H790.0zM719.8 948.8H723.3V952.3H719.8zM790.0 948.8H793.5V952.3H790.0zM698.7 955.8H702.2V959.3H698.7zM716.3 959.3H719.8V962.9H716.3zM670.6 962.9H674.1V966.4H670.6zM768.9 966.4H772.5V969.9H768.9z"/><path fill="#408080" d="M860.3 938.2H863.8V941.8H860.3z"/><path fill="#804020" d="M863.8 938.2H867.3V941.8H863.8zM695.2 941.8H698.7V945.3H695.2zM730.3 941.8H733.8V945.3H730.3zM765.4 945.3H768.9V948.8H765.4zM726.8 959.3H730.3V962.9H726.8zM814.6 962.9H818.1V966.4H814.6zM761.9 969.9H765.4V973.4H761.9zM870.8 969.9H874.3V973.4H870.8z"/><path fill="#204040" d="M719.8 941.8H723.3V945.3H719.8z"/><path fill="#202040" d="M723.3 941.8H726.8V945.3H723.3z"/><path fill="#80a0a0" d="M726.8 941.8H730.3V945.3H726.8z"/><path fill="#408060" d="M737.3 941.8H740.8V945.3H737.3z"/><path fill="#402040" d="M740.8 941.8H744.4V945.3H740.8z"/><path fill="#60a0a0" d="M744.4 941.8H747.9V945.3H744.4z"/><path fill="#806020" d="M747.9 941.8H751.4V945.3H747.9z"/><path fill="#80c0ff" d="M776.0 941.8H779.5V945.3H776.0zM772.5 945.3H776.0V948.8H772.5zM716.3 955.8H719.8V959.3H716.3zM751.4 959.3H754.9V962.9H751.4zM695.2 962.9H698.7V966.4H695.2z"/><path fill="#c06020" d="M783.0 941.8H786.5V945.3H783.0zM730.3 945.3H733.8V948.8H730.3zM783.0 945.3H786.5V948.8H783.0zM705.7 966.4H709.2V969.9H705.7z"/><path fill="#60a0e0" d="M825.1 941.8H828.6V945.3H825.1zM674.1 945.3H677.6V948.8H674.1zM754.9 945.3H758.4V948.8H754.9zM790.0 945.3H793.5V948.8H790.0zM821.6 952.3H825.1V955.8H821.6zM733.8 955.8H737.3V959.3H733.8zM818.1 962.9H821.6V966.4H818.1zM751.4 969.9H754.9V973.4H751.4z"/><path fill="#204060" d="M860.3 941.8H863.8V945.3H860.3zM772.5 955.8H776.0V959.3H772.5zM695.2 969.9H698.7V973.4H695.2z"/><path fill="#80a0c0" d="M863.8 941.8H867.3V945.3H863.8z"/><path fill="#c0c0c0" d="M867.3 941.8H870.8V945.3H867.3zM768.9 973.4H772.5V976.9H768.9z"/><path fill="#a08040" d="M870.8 941.8H874.3V945.3H870.8z"/><path fill="#002080" d="M877.8 941.8H881.3V945.3H877.8zM691.7 966.4H695.2V969.9H691.7z"/><path fill="#a04020" d="M667.1 945.3H670.6V948.8H667.1zM712.8 945.3H716.3V948.8H712.8zM874.3 945.3H877.8V948.8H874.3zM747.9 948.8H751.4V952.3H747.9zM691.7 952.3H695.2V955.8H691.7z"/><path fill="#2040a0" d="M698.7 945.3H702.2V948.8H698.7zM670.6 952.3H674.1V955.8H670.6zM751.4 952.3H754.9V955.8H751.4zM730.3 962.9H733.8V966.4H730.3z"/><path fill="#004080" d="M737.3 945.3H740.8V948.8H737.3zM716.3 948.8H719.8V952.3H716.3zM786.5 948.8H790.0V952.3H786.5zM747.9 962.9H751.4V966.4H747.9zM765.4 966.4H768.9V969.9H765.4z"/><path fill="#e0c0a0" d="M772.5 952.3H776.0V955.8H772.5z"/><path fill="#e0a060" d="M744.4 955.8H747.9V959.3H744.4zM688.2 959.3H691.7V962.9H688.2zM660.1 962.9H663.6V966.4H660.1zM705.7 962.9H709.2V966.4H705.7zM758.4 966.4H761.9V969.9H758.4z"/><path fill="#e0c060" d="M758.4 955.8H761.9V959.3H758.4zM740.8 966.4H744.4V969.9H740.8zM684.7 969.9H688.2V973.4H684.7z"/><path fill="#80a0e0" d="M776.0 955.8H779.5V959.3H776.0z"/><path fill="#ffe080" d="M814.6 955.8H818.1V959.3H814.6z"/><path fill="#402060" d="M818.1 955.8H821.6V959.3H818.1zM814.6 966.4H818.1V969.9H814.6z"/><path fill="#000040" d="M747.9 959.3H751.4V962.9H747.9zM691.7 962.9H695.2V966.4H691.7z"/><path fill="#e08040" d="M814.6 959.3H818.1V962.9H814.6z"/><path fill="#2060c0" d="M747.9 966.4H751.4V969.9H747.9z"/><path fill="#80e0ff" d="M730.3 969.9H733.8V973.4H730.3z"/><path fill="#e0ffc0" d="M867.3 969.9H870.8V973.4H867.3z"/><path fill="#a0c0ff" d="M884.8 969.9H888.4V973.4H884.8z"/><path fill="#e0e0c0" d="M811.1 973.4H814.6V976.9H811.1z"/>
<path fill="#ffffe0" d="M34.9 308.3H38.4V311.9H34.9zM27.9 336.5H31.4V340.0H27.9zM31.4 347.0H34.9V350.6H31.4zM38.4 347.0H42.0V350.6H38.4zM27.9 357.6H31.4V361.1H27.9zM31.4 361.1H34.9V364.6H31.4zM42.0 361.1H45.5V364.6H42.0zM20.9 382.2H24.4V385.8H20.9zM38.4 389.3H42.0V392.8H38.4zM56.0 396.3H59.5V399.8H56.0zM66.5 399.8H70.1V403.3H66.5zM73.6 403.3H77.1V406.9H73.6zM52.5 420.9H59.5V424.5H52.5zM70.1 428.0H73.6V431.5H70.1zM52.5 435.0H56.0V438.5H52.5zM63.0 438.5H66.5V442.1H63.0zM73.6 452.6H77.1V456.1H73.6zM63.0 459.7H66.5V463.2H63.0zM56.0 463.2H59.5V466.7H56.0zM80.6 463.2H84.1V466.7H80.6zM56.0 494.8H59.5V498.4H56.0zM66.5 498.4H70.1V501.9H66.5zM27.9 501.9H31.4V505.4H27.9z"/><path fill="#a06020" d="M31.4 343.5H34.9V347.0H31.4zM49.0 347.0H52.5V350.6H49.0zM27.9 354.1H31.4V357.6H27.9zM20.9 378.7H24.4V382.2H20.9zM38.4 385.8H42.0V389.3H38.4zM56.0 417.4H59.5V420.9H56.0zM52.5 431.5H56.0V435.0H52.5zM63.0 435.0H66.5V438.5H63.0zM73.6 449.1H77.1V452.6H73.6zM63.0 456.1H66.5V459.7H63.0zM31.4 484.3H34.9V487.8H31.4zM66.5 494.8H70.1V498.4H66.5z"/><path fill="#002060" d="M27.9 304.8H31.4V308.3H27.9zM49.0 340.0H59.5V343.5H49.0zM27.9 343.5H31.4V347.0H27.9zM31.4 354.1H34.9V357.6H31.4zM20.9 375.2H24.4V378.7H20.9zM38.4 382.2H42.0V385.8H38.4zM56.0 389.3H59.5V392.8H56.0zM49.0 442.1H52.5V445.6H49.0zM38.4 480.8H42.0V484.3H38.4zM49.0 484.3H52.5V487.8H49.0z"/><path fill="#c0e0ff" d="M20.9 371.7H24.4V375.2H20.9zM66.5 389.3H70.1V392.8H66.5zM77.1 413.9H80.6V417.4H77.1zM49.0 438.5H52.5V442.1H49.0zM70.1 442.1H73.6V445.6H70.1zM38.4 477.2H42.0V480.8H38.4zM73.6 480.8H77.1V484.3H73.6zM38.4 498.4H42.0V501.9H38.4z"/><path fill="#ffe0a0" d="M73.6 336.5H77.1V340.0H73.6zM42.0 347.0H45.5V350.6H42.0zM45.5 357.6H49.0V361.1H45.5zM34.9 361.1H42.0V364.6H34.9zM24.4 382.2H27.9V385.8H24.4zM42.0 389.3H45.5V392.8H42.0zM59.5 396.3H63.0V399.8H59.5zM59.5 420.9H63.0V424.5H59.5zM56.0 435.0H59.5V438.5H56.0zM52.5 445.6H56.0V449.1H52.5zM49.0 491.3H52.5V494.8H49.0zM59.5 494.8H63.0V498.4H59.5zM70.1 498.4H73.6V501.9H70.1zM31.4 501.9H34.9V505.4H31.4z"/><path fill="#402000" d="M42.0 343.5H45.5V347.0H42.0zM24.4 378.7H27.9V382.2H24.4zM66.5 449.1H70.1V452.6H66.5zM49.0 487.8H52.5V491.3H49.0z"/><path fill="#4080c0" d="M66.5 301.3H73.6V304.8H66.5zM63.0 336.5H66.5V340.0H63.0zM24.4 375.2H27.9V378.7H24.4zM70.1 392.8H73.6V396.3H70.1zM59.5 413.9H63.0V417.4H59.5zM63.0 417.4H66.5V420.9H63.0zM66.5 431.5H70.1V435.0H66.5zM66.5 487.8H70.1V491.3H66.5z"/><path fill="#ffffff" d="M63.0 297.8H73.6V301.3H63.0zM38.4 308.3H42.0V311.9H38.4zM66.5 308.3H70.1V311.9H66.5zM70.1 343.5H73.6V347.0H70.1zM52.5 350.6H56.0V354.1H52.5zM24.4 371.7H27.9V375.2H24.4zM52.5 382.2H56.0V385.8H52.5zM27.9 385.8H31.4V389.3H27.9zM70.1 389.3H73.6V392.8H70.1zM59.5 410.4H63.0V413.9H59.5zM73.6 428.0H80.6V431.5H73.6zM49.0 459.7H52.5V463.2H49.0zM59.5 463.2H63.0V466.7H59.5zM70.1 466.7H73.6V470.2H70.1zM66.5 484.3H70.1V487.8H66.5zM42.0 491.3H45.5V494.8H42.0zM52.5 494.8H56.0V498.4H52.5zM38.4 505.4H42.0V508.9H38.4zM73.6 508.9H77.1V512.4H73.6z"/><path fill="#a04020" d="M38.4 343.5H42.0V347.0H38.4zM42.0 357.6H45.5V361.1H42.0zM66.5 396.3H70.1V399.8H66.5zM52.5 417.4H56.0V420.9H52.5zM70.1 424.5H73.6V428.0H70.1zM56.0 491.3H59.5V494.8H56.0zM27.9 498.4H31.4V501.9H27.9z"/><path fill="#000000" d="M27.9 308.3H31.4V311.9H27.9zM73.6 308.3H77.1V311.9H73.6zM27.9 311.9H31.4V315.4H27.9zM73.6 311.9H77.1V315.4H73.6zM27.9 315.4H31.4V318.9H27.9zM27.9 318.9H31.4V322.4H27.9zM27.9 322.4H31.4V325.9H27.9zM27.9 325.9H31.4V329.4H27.9zM73.6 325.9H77.1V329.4H73.6zM73.6 329.4H77.1V333.0H73.6zM31.4 336.5H34.9V340.0H31.4zM31.4 340.0H34.9V343.5H31.4zM38.4 340.0H42.0V343.5H38.4zM63.0 340.0H66.5V343.5H63.0zM45.5 343.5H52.5V347.0H45.5zM27.9 347.0H31.4V350.6H27.9zM45.5 347.0H49.0V350.6H45.5zM27.9 350.6H31.4V354.1H27.9zM45.5 350.6H49.0V354.1H45.5zM49.0 428.0H52.5V431.5H49.0zM63.0 452.6H66.5V456.1H63.0zM27.9 466.7H31.4V470.2H27.9zM27.9 470.2H31.4V473.7H27.9zM27.9 473.7H31.4V477.2H27.9zM27.9 477.2H31.4V480.8H27.9zM27.9 480.8H34.9V484.3H27.9zM27.9 484.3H31.4V487.8H27.9zM42.0 484.3H45.5V487.8H42.0zM27.9 487.8H31.4V491.3H27.9zM73.6 487.8H77.1V491.3H73.6zM27.9 491.3H31.4V494.8H27.9zM73.6 491.3H77.1V494.8H73.6zM27.9 494.8H31.4V498.4H27.9zM73.6 494.8H77.1V498.4H73.6zM73.6 498.4H77.1V501.9H73.6z"/><path fill="#000020" d="M73.6 304.8H77.1V308.3H73.6zM31.4 333.0H34.9V336.5H31.4zM42.0 340.0H45.5V343.5H42.0zM63.0 420.9H66.5V424.5H63.0zM63.0 431.5H66.5V435.0H63.0zM27.9 463.2H31.4V466.7H27.9zM34.9 480.8H38.4V484.3H34.9zM45.5 484.3H49.0V487.8H45.5zM56.0 487.8H59.5V491.3H56.0zM66.5 491.3H70.1V494.8H66.5z"/><path fill="#60c0e0" d="M42.0 336.5H45.5V340.0H42.0zM34.9 354.1H38.4V357.6H34.9zM63.0 389.3H66.5V392.8H63.0zM80.6 396.3H84.1V399.8H80.6zM27.9 459.7H31.4V463.2H27.9z"/><path fill="#e0a040" d="M27.9 382.2H31.4V385.8H27.9zM45.5 389.3H49.0V392.8H45.5zM70.1 449.1H73.6V452.6H70.1zM59.5 459.7H63.0V463.2H59.5zM77.1 466.7H80.6V470.2H77.1zM52.5 491.3H56.0V494.8H52.5z"/><path fill="#202040" d="M27.9 378.7H31.4V382.2H27.9zM59.5 431.5H63.0V435.0H59.5zM70.1 435.0H73.6V438.5H70.1zM52.5 456.1H56.0V459.7H52.5z"/><path fill="#80c0ff" d="M38.4 354.1H42.0V357.6H38.4zM27.9 375.2H31.4V378.7H27.9zM45.5 382.2H49.0V385.8H45.5zM70.1 431.5H73.6V435.0H70.1zM70.1 487.8H73.6V491.3H70.1z"/><path fill="#a0e0ff" d="M27.9 301.3H31.4V304.8H27.9zM45.5 336.5H59.5V340.0H45.5zM27.9 340.0H31.4V343.5H27.9zM38.4 378.7H42.0V382.2H38.4zM56.0 385.8H59.5V389.3H56.0zM73.6 392.8H77.1V396.3H73.6zM49.0 413.9H52.5V417.4H49.0zM73.6 417.4H77.1V420.9H73.6zM59.5 428.0H63.0V431.5H59.5zM52.5 452.6H56.0V456.1H52.5zM31.4 459.7H34.9V463.2H31.4zM49.0 480.8H52.5V484.3H49.0zM59.5 484.3H63.0V487.8H59.5z"/><path fill="#c08040" d="M66.5 304.8H70.1V308.3H66.5zM27.9 333.0H31.4V336.5H27.9zM70.1 340.0H73.6V343.5H70.1zM73.6 399.8H77.1V403.3H73.6zM73.6 424.5H77.1V428.0H73.6zM73.6 438.5H77.1V442.1H73.6zM77.1 442.1H80.6V445.6H77.1zM56.0 459.7H59.5V463.2H56.0zM42.0 487.8H45.5V491.3H42.0z"/><path fill="#200000" d="M27.9 329.4H31.4V333.0H27.9zM70.1 336.5H73.6V340.0H70.1zM66.5 340.0H70.1V343.5H66.5zM52.5 343.5H59.5V347.0H52.5zM49.0 420.9H52.5V424.5H49.0zM77.1 438.5H80.6V442.1H77.1zM59.5 456.1H63.0V459.7H59.5zM52.5 487.8H56.0V491.3H52.5zM63.0 491.3H66.5V494.8H63.0zM73.6 501.9H77.1V505.4H73.6z"/><path fill="#602040" d="M38.4 357.6H42.0V361.1H38.4zM31.4 498.4H34.9V501.9H31.4z"/><path fill="#60a0c0" d="M31.4 494.8H34.9V498.4H31.4z"/><path fill="#c0e0e0" d="M77.1 445.6H80.6V449.1H77.1zM31.4 473.7H34.9V477.2H31.4zM31.4 491.3H34.9V494.8H31.4z"/><path fill="#e0e0c0" d="M49.0 350.6H52.5V354.1H49.0zM31.4 470.2H34.9V473.7H31.4zM31.4 487.8H34.9V491.3H31.4z"/><path fill="#2060a0" d="M59.5 389.3H63.0V392.8H59.5zM77.1 396.3H80.6V399.8H77.1zM70.1 420.9H73.6V424.5H70.1zM52.5 428.0H56.0V431.5H52.5zM59.5 452.6H63.0V456.1H59.5zM31.4 477.2H34.9V480.8H31.4z"/><path fill="#c0a060" d="M31.4 466.7H34.9V470.2H31.4z"/><path fill="#402040" d="M31.4 463.2H34.9V466.7H31.4z"/><path fill="#ffffc0" d="M63.0 347.0H66.5V350.6H63.0zM31.4 385.8H34.9V389.3H31.4zM49.0 392.8H52.5V396.3H49.0zM45.5 491.3H49.0V494.8H45.5z"/><path fill="#804000" d="M63.0 343.5H66.5V347.0H63.0zM31.4 382.2H34.9V385.8H31.4z"/><path fill="#2040a0" d="M42.0 354.1H45.5V357.6H42.0zM31.4 378.7H34.9V382.2H31.4zM52.5 413.9H56.0V417.4H52.5zM52.5 484.3H56.0V487.8H52.5zM63.0 487.8H66.5V491.3H63.0z"/><path fill="#e0ffff" d="M31.4 325.9H34.9V329.4H31.4zM38.4 333.0H42.0V336.5H38.4zM63.0 333.0H66.5V336.5H63.0zM42.0 350.6H45.5V354.1H42.0zM31.4 375.2H34.9V378.7H31.4zM42.0 378.7H45.5V382.2H42.0zM59.5 385.8H63.0V389.3H59.5zM77.1 392.8H80.6V396.3H77.1zM52.5 410.4H56.0V413.9H52.5zM63.0 413.9H66.5V417.4H63.0zM70.1 417.4H73.6V420.9H70.1zM52.5 424.5H56.0V428.0H52.5zM52.5 438.5H56.0V442.1H52.5zM59.5 449.1H63.0V452.6H59.5zM80.6 452.6H84.1V456.1H80.6zM34.9 459.7H38.4V463.2H34.9zM73.6 459.7H77.1V463.2H73.6zM42.0 477.2H45.5V480.8H42.0zM52.5 480.8H56.0V484.3H52.5zM63.0 484.3H66.5V487.8H63.0zM34.9 494.8H38.4V498.4H34.9z"/><path fill="#c06020" d="M31.4 357.6H34.9V361.1H31.4zM56.0 392.8H59.5V396.3H56.0z"/><path fill="#a0c0e0" d="M31.4 350.6H34.9V354.1H31.4zM38.4 463.2H42.0V466.7H38.4z"/><path fill="#4080a0" d="M31.4 329.4H34.9V333.0H31.4z"/><path fill="#ffe0c0" d="M31.4 311.9H34.9V315.4H31.4zM77.1 403.3H80.6V406.9H77.1zM66.5 438.5H70.1V442.1H66.5zM34.9 487.8H38.4V491.3H34.9z"/><path fill="#a06040" d="M34.9 304.8H38.4V308.3H34.9zM31.4 308.3H34.9V311.9H31.4z"/><path fill="#200020" d="M31.4 304.8H34.9V308.3H31.4zM34.9 382.2H38.4V385.8H34.9zM63.0 392.8H66.5V396.3H63.0zM77.1 463.2H80.6V466.7H77.1z"/><path fill="#60a0e0" d="M31.4 301.3H38.4V304.8H31.4zM34.9 378.7H38.4V382.2H34.9zM45.5 480.8H49.0V484.3H45.5z"/><path fill="#e0a060" d="M56.0 347.0H59.5V350.6H56.0zM63.0 396.3H66.5V399.8H63.0zM59.5 435.0H63.0V438.5H59.5zM49.0 456.1H52.5V459.7H49.0zM63.0 494.8H66.5V498.4H63.0zM34.9 501.9H38.4V505.4H34.9zM73.6 505.4H77.1V508.9H73.6z"/><path fill="#4060c0" d="M34.9 498.4H38.4V501.9H34.9z"/><path fill="#802000" d="M34.9 484.3H38.4V487.8H34.9z"/><path fill="#80c0e0" d="M70.1 329.4H73.6V333.0H70.1zM34.9 333.0H38.4V336.5H34.9zM59.5 336.5H63.0V340.0H59.5zM63.0 445.6H66.5V449.1H63.0zM34.9 477.2H38.4V480.8H34.9z"/><path fill="#ffc080" d="M34.9 343.5H38.4V347.0H34.9zM59.5 347.0H63.0V350.6H59.5zM52.5 392.8H56.0V396.3H52.5zM70.1 399.8H73.6V403.3H70.1zM66.5 452.6H70.1V456.1H66.5zM34.9 466.7H38.4V470.2H34.9zM73.6 466.7H77.1V470.2H73.6z"/><path fill="#4060a0" d="M34.9 463.2H38.4V466.7H34.9z"/><path fill="#e0c060" d="M66.5 343.5H70.1V347.0H66.5zM34.9 385.8H38.4V389.3H34.9zM70.1 438.5H73.6V442.1H70.1zM52.5 459.7H56.0V463.2H52.5z"/><path fill="#602020" d="M70.1 304.8H73.6V308.3H70.1zM34.9 357.6H38.4V361.1H34.9zM56.0 431.5H59.5V435.0H56.0zM66.5 435.0H70.1V438.5H66.5z"/><path fill="#400000" d="M34.9 340.0H38.4V343.5H34.9zM59.5 343.5H63.0V347.0H59.5zM77.1 420.9H80.6V424.5H77.1zM38.4 484.3H42.0V487.8H38.4z"/><path fill="#000040" d="M34.9 336.5H38.4V340.0H34.9zM59.5 340.0H63.0V343.5H59.5zM63.0 449.1H66.5V452.6H63.0zM70.1 491.3H73.6V494.8H70.1z"/><path fill="#e0c0a0" d="M38.4 304.8H42.0V308.3H38.4zM70.1 308.3H73.6V311.9H70.1zM49.0 435.0H52.5V438.5H49.0zM38.4 501.9H42.0V505.4H38.4z"/><path fill="#e0c080" d="M63.0 304.8H66.5V308.3H63.0zM80.6 403.3H84.1V406.9H80.6zM77.1 424.5H80.6V428.0H77.1zM38.4 487.8H42.0V491.3H38.4z"/><path fill="#ffc0a0" d="M38.4 466.7H42.0V470.2H38.4z"/><path fill="#2060c0" d="M38.4 336.5H42.0V340.0H38.4zM42.0 382.2H45.5V385.8H42.0zM73.6 445.6H77.1V449.1H73.6zM42.0 480.8H45.5V484.3H42.0z"/><path fill="#a0c0ff" d="M38.4 301.3H42.0V304.8H38.4z"/><path fill="#602000" d="M45.5 354.1H49.0V357.6H45.5zM42.0 385.8H45.5V389.3H42.0zM59.5 392.8H63.0V396.3H59.5zM77.1 399.8H80.6V403.3H77.1zM59.5 491.3H63.0V494.8H59.5zM70.1 494.8H73.6V498.4H70.1z"/><path fill="#804020" d="M49.0 389.3H52.5V392.8H49.0zM45.5 487.8H49.0V491.3H45.5z"/><path fill="#200040" d="M45.5 385.8H49.0V389.3H45.5z"/><path fill="#002040" d="M70.1 333.0H73.6V336.5H70.1zM66.5 336.5H70.1V340.0H66.5zM45.5 340.0H49.0V343.5H45.5zM73.6 396.3H77.1V399.8H73.6zM77.1 435.0H80.6V438.5H77.1zM59.5 487.8H63.0V491.3H59.5z"/><path fill="#202020" d="M73.6 322.4H77.1V325.9H73.6zM49.0 424.5H52.5V428.0H49.0zM49.0 449.1H52.5V452.6H49.0zM49.0 452.6H52.5V456.1H49.0z"/><path fill="#202000" d="M73.6 315.4H77.1V318.9H73.6zM49.0 445.6H52.5V449.1H49.0z"/><path fill="#604020" d="M73.6 333.0H77.1V336.5H73.6zM49.0 431.5H52.5V435.0H49.0zM77.1 452.6H80.6V456.1H77.1z"/><path fill="#204060" d="M49.0 417.4H52.5V420.9H49.0z"/><path fill="#204080" d="M49.0 385.8H52.5V389.3H49.0zM56.0 413.9H59.5V417.4H56.0zM77.1 417.4H80.6V420.9H77.1zM73.6 435.0H77.1V438.5H73.6zM66.5 445.6H70.1V449.1H66.5zM77.1 449.1H80.6V452.6H77.1zM56.0 456.1H59.5V459.7H56.0zM73.6 484.3H77.1V487.8H73.6z"/><path fill="#c0ffff" d="M49.0 382.2H52.5V385.8H49.0zM56.0 410.4H59.5V413.9H56.0zM73.6 431.5H77.1V435.0H73.6zM66.5 442.1H70.1V445.6H66.5zM56.0 452.6H59.5V456.1H56.0z"/><path fill="#8080a0" d="M52.5 442.1H56.0V445.6H52.5z"/><path fill="#400020" d="M52.5 389.3H56.0V392.8H52.5z"/><path fill="#40a0e0" d="M73.6 301.3H77.1V304.8H73.6zM52.5 385.8H56.0V389.3H52.5zM66.5 420.9H70.1V424.5H66.5zM56.0 428.0H59.5V431.5H56.0zM56.0 484.3H59.5V487.8H56.0z"/><path fill="#e08040" d="M52.5 347.0H56.0V350.6H52.5z"/><path fill="#402020" d="M70.1 396.3H73.6V399.8H70.1zM80.6 399.8H84.1V403.3H80.6zM59.5 417.4H63.0V420.9H59.5zM63.0 424.5H70.1V428.0H63.0z"/><path fill="#404040" d="M63.0 428.0H66.5V431.5H63.0z"/><path fill="#6080c0" d="M63.0 301.3H66.5V304.8H63.0zM73.6 463.2H77.1V466.7H73.6z"/><path fill="#e0e0a0" d="M66.5 428.0H70.1V431.5H66.5z"/><path fill="#004080" d="M66.5 392.8H70.1V396.3H66.5z"/><path fill="#80e0ff" d="M66.5 333.0H70.1V336.5H66.5z"/><path fill="#e0e0ff" d="M77.1 311.9H80.6V315.4H77.1zM70.1 463.2H73.6V466.7H70.1z"/><path fill="#202060" d="M73.6 420.9H77.1V424.5H73.6zM70.1 445.6H73.6V449.1H70.1z"/><path fill="#e0ffe0" d="M73.6 442.1H77.1V445.6H73.6z"/><path fill="#404020" d="M73.6 318.9H77.1V322.4H73.6z"/><path fill="#408080" d="M77.1 459.7H80.6V463.2H77.1z"/><path fill="#a0a080" d="M77.1 456.1H80.6V459.7H77.1z"/><path fill="#80a0e0" d="M77.1 431.5H80.6V435.0H77.1z"/><path fill="#ffe0e0" d="M77.1 325.9H80.6V329.4H77.1z"/><path fill="#c0c0c0" d="M77.1 318.9H80.6V322.4H77.1zM77.1 322.4H80.6V325.9H77.1z"/><path fill="#c0c0e0" d="M77.1 315.4H80.6V318.9H77.1zM80.6 456.1H84.1V459.7H80.6z"/><path fill="#e0c0c0" d="M80.6 459.7H84.1V463.2H80.6z"/>
</svg>
</body></html>
